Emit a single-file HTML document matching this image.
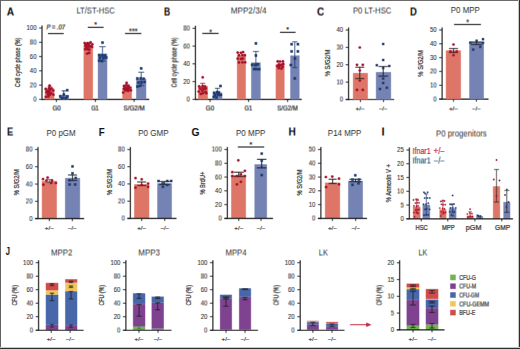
<!DOCTYPE html>
<html><head><meta charset="utf-8"><style>
html,body{margin:0;padding:0;background:#fff;}
#wrap{position:relative;width:520px;height:349px;overflow:hidden;background:#fff;}
svg{position:absolute;left:0;top:0;font-family:"Liberation Sans", sans-serif;}
</style></head><body><div id="wrap">
<svg width="520" height="349" viewBox="0 0 520 349">
<defs><g id="c"><rect x="-2" y="-2" width="524" height="353" fill="#fff"/>
<line x1="42.00" y1="99.90" x2="42.00" y2="25.50" stroke="#1e1e1e" stroke-width="1.15"/>
<line x1="39.10" y1="99.40" x2="42.00" y2="99.40" stroke="#1e1e1e" stroke-width="0.9"/>
<text x="36.50" y="101.64" font-size="6.3" text-anchor="end" fill="#3a3a3a" stroke="#3a3a3a" stroke-width="0.1" textLength="3.34" lengthAdjust="spacingAndGlyphs">0</text>
<line x1="39.10" y1="85.12" x2="42.00" y2="85.12" stroke="#1e1e1e" stroke-width="0.9"/>
<text x="36.50" y="87.36" font-size="6.3" text-anchor="end" fill="#3a3a3a" stroke="#3a3a3a" stroke-width="0.1" textLength="6.68" lengthAdjust="spacingAndGlyphs">20</text>
<line x1="39.10" y1="70.84" x2="42.00" y2="70.84" stroke="#1e1e1e" stroke-width="0.9"/>
<text x="36.50" y="73.08" font-size="6.3" text-anchor="end" fill="#3a3a3a" stroke="#3a3a3a" stroke-width="0.1" textLength="6.68" lengthAdjust="spacingAndGlyphs">40</text>
<line x1="39.10" y1="56.56" x2="42.00" y2="56.56" stroke="#1e1e1e" stroke-width="0.9"/>
<text x="36.50" y="58.80" font-size="6.3" text-anchor="end" fill="#3a3a3a" stroke="#3a3a3a" stroke-width="0.1" textLength="6.68" lengthAdjust="spacingAndGlyphs">60</text>
<line x1="39.10" y1="42.28" x2="42.00" y2="42.28" stroke="#1e1e1e" stroke-width="0.9"/>
<text x="36.50" y="44.52" font-size="6.3" text-anchor="end" fill="#3a3a3a" stroke="#3a3a3a" stroke-width="0.1" textLength="6.68" lengthAdjust="spacingAndGlyphs">80</text>
<line x1="39.10" y1="28.00" x2="42.00" y2="28.00" stroke="#1e1e1e" stroke-width="0.9"/>
<text x="36.50" y="30.24" font-size="6.3" text-anchor="end" fill="#3a3a3a" stroke="#3a3a3a" stroke-width="0.1" textLength="10.02" lengthAdjust="spacingAndGlyphs">100</text>
<text x="20.10" y="62.40" font-size="7.0" text-anchor="middle" fill="#333" stroke="#333" stroke-width="0.22" textLength="49.60" lengthAdjust="spacingAndGlyphs" transform="rotate(-90 20.10 62.40)">Cell cycle phase (%)</text>
<line x1="42.00" y1="99.40" x2="149.20" y2="99.40" stroke="#1e1e1e" stroke-width="1.15"/>
<line x1="56.40" y1="99.40" x2="56.40" y2="102.00" stroke="#1e1e1e" stroke-width="0.9"/>
<line x1="95.40" y1="99.40" x2="95.40" y2="102.00" stroke="#1e1e1e" stroke-width="0.9"/>
<line x1="134.10" y1="99.40" x2="134.10" y2="102.00" stroke="#1e1e1e" stroke-width="0.9"/>
<rect x="44.90" y="88.40" width="9.40" height="11.00" fill="#DE7668"/>
<rect x="59.40" y="95.00" width="9.40" height="4.40" fill="#7482B4"/>
<rect x="83.60" y="45.50" width="9.30" height="53.90" fill="#DE7668"/>
<rect x="97.90" y="53.60" width="9.30" height="45.80" fill="#7482B4"/>
<rect x="122.40" y="87.60" width="9.40" height="11.80" fill="#DE7668"/>
<rect x="136.20" y="78.70" width="10.00" height="20.70" fill="#7482B4"/>
<circle cx="49.60" cy="85.60" r="1.4" fill="#A8112B"/>
<circle cx="45.73" cy="88.97" r="1.4" fill="#A8112B"/>
<circle cx="49.15" cy="88.26" r="1.4" fill="#A8112B"/>
<circle cx="51.49" cy="88.49" r="1.4" fill="#A8112B"/>
<circle cx="47.68" cy="91.00" r="1.4" fill="#A8112B"/>
<circle cx="49.68" cy="90.08" r="1.4" fill="#A8112B"/>
<circle cx="53.24" cy="90.57" r="1.4" fill="#A8112B"/>
<circle cx="46.48" cy="92.15" r="1.4" fill="#A8112B"/>
<circle cx="48.77" cy="93.02" r="1.4" fill="#A8112B"/>
<circle cx="51.17" cy="93.28" r="1.4" fill="#A8112B"/>
<circle cx="47.98" cy="94.29" r="1.4" fill="#A8112B"/>
<circle cx="49.60" cy="94.90" r="1.4" fill="#A8112B"/>
<circle cx="53.36" cy="94.71" r="1.4" fill="#A8112B"/>
<circle cx="45.83" cy="96.86" r="1.4" fill="#A8112B"/>
<circle cx="48.27" cy="96.62" r="1.4" fill="#A8112B"/>
<line x1="49.60" y1="86.50" x2="49.60" y2="92.00" stroke="#A8112B" stroke-width="0.8"/>
<line x1="47.60" y1="86.50" x2="51.60" y2="86.50" stroke="#A8112B" stroke-width="0.8"/>
<line x1="47.60" y1="92.00" x2="51.60" y2="92.00" stroke="#A8112B" stroke-width="0.8"/>
<rect x="65.90" y="88.90" width="2.6" height="2.6" fill="#1D3B6E"/>
<rect x="59.00" y="95.00" width="2.6" height="2.6" fill="#1D3B6E"/>
<rect x="62.50" y="93.20" width="2.6" height="2.6" fill="#1D3B6E"/>
<rect x="66.00" y="95.20" width="2.6" height="2.6" fill="#1D3B6E"/>
<rect x="60.70" y="96.90" width="2.6" height="2.6" fill="#1D3B6E"/>
<rect x="64.70" y="96.90" width="2.6" height="2.6" fill="#1D3B6E"/>
<line x1="63.80" y1="90.90" x2="63.80" y2="98.00" stroke="#1D3B6E" stroke-width="0.9"/>
<line x1="61.70" y1="90.90" x2="65.90" y2="90.90" stroke="#1D3B6E" stroke-width="0.9"/>
<line x1="61.70" y1="98.00" x2="65.90" y2="98.00" stroke="#1D3B6E" stroke-width="0.9"/>
<circle cx="84.66" cy="43.09" r="1.4" fill="#A8112B"/>
<circle cx="87.52" cy="43.16" r="1.4" fill="#A8112B"/>
<circle cx="90.53" cy="42.52" r="1.4" fill="#A8112B"/>
<circle cx="85.74" cy="44.72" r="1.4" fill="#A8112B"/>
<circle cx="88.74" cy="43.99" r="1.4" fill="#A8112B"/>
<circle cx="92.32" cy="44.28" r="1.4" fill="#A8112B"/>
<circle cx="85.38" cy="45.56" r="1.4" fill="#A8112B"/>
<circle cx="87.84" cy="45.17" r="1.4" fill="#A8112B"/>
<circle cx="90.54" cy="46.03" r="1.4" fill="#A8112B"/>
<circle cx="86.35" cy="47.15" r="1.4" fill="#A8112B"/>
<circle cx="89.23" cy="46.34" r="1.4" fill="#A8112B"/>
<circle cx="92.03" cy="46.97" r="1.4" fill="#A8112B"/>
<circle cx="85.22" cy="49.27" r="1.4" fill="#A8112B"/>
<circle cx="87.58" cy="49.34" r="1.4" fill="#A8112B"/>
<circle cx="89.35" cy="49.63" r="1.4" fill="#A8112B"/>
<circle cx="87.13" cy="53.61" r="1.4" fill="#A8112B"/>
<circle cx="89.11" cy="52.92" r="1.4" fill="#A8112B"/>
<line x1="88.20" y1="43.00" x2="88.20" y2="48.00" stroke="#A8112B" stroke-width="0.8"/>
<line x1="86.20" y1="43.00" x2="90.20" y2="43.00" stroke="#A8112B" stroke-width="0.8"/>
<line x1="86.20" y1="48.00" x2="90.20" y2="48.00" stroke="#A8112B" stroke-width="0.8"/>
<rect x="101.20" y="41.30" width="2.6" height="2.6" fill="#1D3B6E"/>
<line x1="102.50" y1="46.70" x2="102.50" y2="61.00" stroke="#1D3B6E" stroke-width="0.8"/>
<line x1="99.25" y1="46.70" x2="105.75" y2="46.70" stroke="#1D3B6E" stroke-width="0.8"/>
<line x1="99.25" y1="61.00" x2="105.75" y2="61.00" stroke="#1D3B6E" stroke-width="0.8"/>
<rect x="98.01" y="53.99" width="2.6" height="2.6" fill="#1D3B6E"/>
<rect x="100.89" y="54.23" width="2.6" height="2.6" fill="#1D3B6E"/>
<rect x="103.49" y="54.21" width="2.6" height="2.6" fill="#1D3B6E"/>
<rect x="98.63" y="56.66" width="2.6" height="2.6" fill="#1D3B6E"/>
<rect x="102.40" y="56.88" width="2.6" height="2.6" fill="#1D3B6E"/>
<rect x="105.01" y="56.24" width="2.6" height="2.6" fill="#1D3B6E"/>
<rect x="97.83" y="59.40" width="2.6" height="2.6" fill="#1D3B6E"/>
<rect x="100.59" y="59.79" width="2.6" height="2.6" fill="#1D3B6E"/>
<circle cx="126.60" cy="82.90" r="1.4" fill="#A8112B"/>
<circle cx="124.04" cy="86.01" r="1.4" fill="#A8112B"/>
<circle cx="126.40" cy="85.33" r="1.4" fill="#A8112B"/>
<circle cx="128.55" cy="85.82" r="1.4" fill="#A8112B"/>
<circle cx="125.01" cy="87.57" r="1.4" fill="#A8112B"/>
<circle cx="127.63" cy="87.58" r="1.4" fill="#A8112B"/>
<circle cx="130.24" cy="87.62" r="1.4" fill="#A8112B"/>
<circle cx="123.96" cy="88.80" r="1.4" fill="#A8112B"/>
<circle cx="126.46" cy="89.12" r="1.4" fill="#A8112B"/>
<circle cx="128.78" cy="88.96" r="1.4" fill="#A8112B"/>
<circle cx="125.42" cy="90.26" r="1.4" fill="#A8112B"/>
<circle cx="128.15" cy="90.76" r="1.4" fill="#A8112B"/>
<circle cx="130.93" cy="90.34" r="1.4" fill="#A8112B"/>
<circle cx="123.20" cy="92.54" r="1.4" fill="#A8112B"/>
<line x1="127.00" y1="85.00" x2="127.00" y2="91.00" stroke="#A8112B" stroke-width="0.8"/>
<line x1="124.75" y1="85.00" x2="129.25" y2="85.00" stroke="#A8112B" stroke-width="0.8"/>
<line x1="124.75" y1="91.00" x2="129.25" y2="91.00" stroke="#A8112B" stroke-width="0.8"/>
<rect x="139.90" y="67.10" width="2.6" height="2.6" fill="#1D3B6E"/>
<line x1="141.20" y1="72.20" x2="141.20" y2="85.50" stroke="#1D3B6E" stroke-width="0.8"/>
<line x1="138.20" y1="72.20" x2="144.20" y2="72.20" stroke="#1D3B6E" stroke-width="0.8"/>
<line x1="138.20" y1="85.50" x2="144.20" y2="85.50" stroke="#1D3B6E" stroke-width="0.8"/>
<rect x="136.04" y="77.11" width="2.6" height="2.6" fill="#1D3B6E"/>
<rect x="139.43" y="77.02" width="2.6" height="2.6" fill="#1D3B6E"/>
<rect x="142.29" y="77.37" width="2.6" height="2.6" fill="#1D3B6E"/>
<rect x="137.22" y="81.21" width="2.6" height="2.6" fill="#1D3B6E"/>
<rect x="140.19" y="81.12" width="2.6" height="2.6" fill="#1D3B6E"/>
<rect x="143.23" y="80.71" width="2.6" height="2.6" fill="#1D3B6E"/>
<rect x="136.16" y="85.26" width="2.6" height="2.6" fill="#1D3B6E"/>
<rect x="138.80" y="84.53" width="2.6" height="2.6" fill="#1D3B6E"/>
<text x="56.60" y="110.60" font-size="6.4" text-anchor="middle" fill="#333" stroke="#333" stroke-width="0.22" textLength="8.30" lengthAdjust="spacingAndGlyphs">G0</text>
<text x="95.00" y="110.60" font-size="6.4" text-anchor="middle" fill="#333" stroke="#333" stroke-width="0.22" textLength="7.60" lengthAdjust="spacingAndGlyphs">G1</text>
<text x="134.20" y="110.60" font-size="6.4" text-anchor="middle" fill="#333" stroke="#333" stroke-width="0.22" textLength="21.20" lengthAdjust="spacingAndGlyphs">S/G2/M</text>
<text x="46.40" y="29.60" font-size="6.4" text-anchor="start" fill="#333" stroke="#333" stroke-width="0.22" font-style="italic" textLength="18.60" lengthAdjust="spacingAndGlyphs">P = .07</text>
<line x1="48.00" y1="33.60" x2="63.70" y2="33.60" stroke="#1e1e1e" stroke-width="1.1"/>
<text x="95.50" y="27.10" font-size="7.0" text-anchor="middle" fill="#333" stroke="#333" stroke-width="0.22">*</text>
<line x1="87.80" y1="27.30" x2="103.60" y2="27.30" stroke="#1e1e1e" stroke-width="1.1"/>
<text x="133.30" y="33.50" font-size="7.0" text-anchor="middle" fill="#333" stroke="#333" stroke-width="0.22" textLength="8.40" lengthAdjust="spacingAndGlyphs">***</text>
<line x1="125.00" y1="33.50" x2="141.40" y2="33.50" stroke="#1e1e1e" stroke-width="1.1"/>
<line x1="195.40" y1="99.90" x2="195.40" y2="25.80" stroke="#1e1e1e" stroke-width="1.15"/>
<line x1="192.50" y1="99.40" x2="195.40" y2="99.40" stroke="#1e1e1e" stroke-width="0.9"/>
<text x="189.90" y="101.64" font-size="6.3" text-anchor="end" fill="#3a3a3a" stroke="#3a3a3a" stroke-width="0.1" textLength="3.34" lengthAdjust="spacingAndGlyphs">0</text>
<line x1="192.50" y1="81.62" x2="195.40" y2="81.62" stroke="#1e1e1e" stroke-width="0.9"/>
<text x="189.90" y="83.86" font-size="6.3" text-anchor="end" fill="#3a3a3a" stroke="#3a3a3a" stroke-width="0.1" textLength="6.68" lengthAdjust="spacingAndGlyphs">20</text>
<line x1="192.50" y1="63.85" x2="195.40" y2="63.85" stroke="#1e1e1e" stroke-width="0.9"/>
<text x="189.90" y="66.09" font-size="6.3" text-anchor="end" fill="#3a3a3a" stroke="#3a3a3a" stroke-width="0.1" textLength="6.68" lengthAdjust="spacingAndGlyphs">40</text>
<line x1="192.50" y1="46.07" x2="195.40" y2="46.07" stroke="#1e1e1e" stroke-width="0.9"/>
<text x="189.90" y="48.31" font-size="6.3" text-anchor="end" fill="#3a3a3a" stroke="#3a3a3a" stroke-width="0.1" textLength="6.68" lengthAdjust="spacingAndGlyphs">60</text>
<line x1="192.50" y1="28.30" x2="195.40" y2="28.30" stroke="#1e1e1e" stroke-width="0.9"/>
<text x="189.90" y="30.54" font-size="6.3" text-anchor="end" fill="#3a3a3a" stroke="#3a3a3a" stroke-width="0.1" textLength="6.68" lengthAdjust="spacingAndGlyphs">80</text>
<text x="176.30" y="62.40" font-size="7.0" text-anchor="middle" fill="#333" stroke="#333" stroke-width="0.22" textLength="50.20" lengthAdjust="spacingAndGlyphs" transform="rotate(-90 176.30 62.40)">Cell cycle phase (%)</text>
<line x1="195.40" y1="99.40" x2="301.70" y2="99.40" stroke="#1e1e1e" stroke-width="1.15"/>
<line x1="210.10" y1="99.40" x2="210.10" y2="102.00" stroke="#1e1e1e" stroke-width="0.9"/>
<line x1="248.60" y1="99.40" x2="248.60" y2="102.00" stroke="#1e1e1e" stroke-width="0.9"/>
<line x1="287.60" y1="99.40" x2="287.60" y2="102.00" stroke="#1e1e1e" stroke-width="0.9"/>
<rect x="198.10" y="86.00" width="9.70" height="13.40" fill="#DE7668"/>
<rect x="212.80" y="92.50" width="9.40" height="6.90" fill="#7482B4"/>
<rect x="237.00" y="55.50" width="8.80" height="43.90" fill="#DE7668"/>
<rect x="251.20" y="62.50" width="9.40" height="36.90" fill="#7482B4"/>
<rect x="275.70" y="64.20" width="8.80" height="35.20" fill="#DE7668"/>
<rect x="290.30" y="55.50" width="9.20" height="43.90" fill="#7482B4"/>
<circle cx="202.70" cy="77.30" r="1.4" fill="#A8112B"/>
<line x1="202.70" y1="83.30" x2="202.70" y2="88.00" stroke="#A8112B" stroke-width="0.8"/>
<line x1="200.20" y1="83.30" x2="205.20" y2="83.30" stroke="#A8112B" stroke-width="0.8"/>
<line x1="200.20" y1="88.00" x2="205.20" y2="88.00" stroke="#A8112B" stroke-width="0.8"/>
<circle cx="199.15" cy="86.32" r="1.4" fill="#A8112B"/>
<circle cx="202.55" cy="86.21" r="1.4" fill="#A8112B"/>
<circle cx="204.88" cy="86.35" r="1.4" fill="#A8112B"/>
<circle cx="200.25" cy="88.76" r="1.4" fill="#A8112B"/>
<circle cx="203.61" cy="89.10" r="1.4" fill="#A8112B"/>
<circle cx="205.80" cy="88.51" r="1.4" fill="#A8112B"/>
<circle cx="198.72" cy="91.62" r="1.4" fill="#A8112B"/>
<circle cx="202.27" cy="90.70" r="1.4" fill="#A8112B"/>
<circle cx="205.45" cy="91.81" r="1.4" fill="#A8112B"/>
<circle cx="200.81" cy="93.89" r="1.4" fill="#A8112B"/>
<circle cx="203.05" cy="93.17" r="1.4" fill="#A8112B"/>
<circle cx="206.33" cy="93.22" r="1.4" fill="#A8112B"/>
<rect x="219.20" y="84.70" width="2.6" height="2.6" fill="#1D3B6E"/>
<line x1="217.40" y1="88.30" x2="217.40" y2="94.00" stroke="#1D3B6E" stroke-width="0.8"/>
<line x1="214.90" y1="88.30" x2="219.90" y2="88.30" stroke="#1D3B6E" stroke-width="0.8"/>
<line x1="214.90" y1="94.00" x2="219.90" y2="94.00" stroke="#1D3B6E" stroke-width="0.8"/>
<rect x="212.84" y="91.47" width="2.6" height="2.6" fill="#1D3B6E"/>
<rect x="215.73" y="90.85" width="2.6" height="2.6" fill="#1D3B6E"/>
<rect x="217.61" y="91.13" width="2.6" height="2.6" fill="#1D3B6E"/>
<rect x="213.93" y="93.82" width="2.6" height="2.6" fill="#1D3B6E"/>
<rect x="217.10" y="93.57" width="2.6" height="2.6" fill="#1D3B6E"/>
<rect x="219.60" y="93.64" width="2.6" height="2.6" fill="#1D3B6E"/>
<rect x="212.44" y="95.54" width="2.6" height="2.6" fill="#1D3B6E"/>
<rect x="215.13" y="96.10" width="2.6" height="2.6" fill="#1D3B6E"/>
<circle cx="237.69" cy="52.62" r="1.4" fill="#A8112B"/>
<circle cx="240.94" cy="52.82" r="1.4" fill="#A8112B"/>
<circle cx="243.07" cy="52.08" r="1.4" fill="#A8112B"/>
<circle cx="238.93" cy="55.27" r="1.4" fill="#A8112B"/>
<circle cx="242.36" cy="55.16" r="1.4" fill="#A8112B"/>
<circle cx="244.85" cy="55.26" r="1.4" fill="#A8112B"/>
<circle cx="237.74" cy="58.72" r="1.4" fill="#A8112B"/>
<circle cx="241.12" cy="58.93" r="1.4" fill="#A8112B"/>
<circle cx="242.87" cy="58.53" r="1.4" fill="#A8112B"/>
<circle cx="238.93" cy="62.45" r="1.4" fill="#A8112B"/>
<circle cx="242.46" cy="62.37" r="1.4" fill="#A8112B"/>
<circle cx="245.21" cy="62.29" r="1.4" fill="#A8112B"/>
<rect x="254.60" y="42.10" width="2.6" height="2.6" fill="#1D3B6E"/>
<rect x="254.60" y="54.20" width="2.6" height="2.6" fill="#1D3B6E"/>
<line x1="255.90" y1="51.50" x2="255.90" y2="64.00" stroke="#1D3B6E" stroke-width="0.8"/>
<line x1="252.90" y1="51.50" x2="258.90" y2="51.50" stroke="#1D3B6E" stroke-width="0.8"/>
<line x1="252.90" y1="64.00" x2="258.90" y2="64.00" stroke="#1D3B6E" stroke-width="0.8"/>
<rect x="250.89" y="63.57" width="2.6" height="2.6" fill="#1D3B6E"/>
<rect x="254.22" y="63.85" width="2.6" height="2.6" fill="#1D3B6E"/>
<rect x="256.43" y="63.03" width="2.6" height="2.6" fill="#1D3B6E"/>
<rect x="252.98" y="67.77" width="2.6" height="2.6" fill="#1D3B6E"/>
<rect x="255.13" y="67.80" width="2.6" height="2.6" fill="#1D3B6E"/>
<rect x="257.91" y="67.91" width="2.6" height="2.6" fill="#1D3B6E"/>
<circle cx="277.70" cy="61.40" r="1.4" fill="#A8112B"/>
<circle cx="279.99" cy="61.58" r="1.4" fill="#A8112B"/>
<circle cx="282.86" cy="61.41" r="1.4" fill="#A8112B"/>
<circle cx="278.88" cy="64.38" r="1.4" fill="#A8112B"/>
<circle cx="281.42" cy="64.76" r="1.4" fill="#A8112B"/>
<circle cx="283.25" cy="63.97" r="1.4" fill="#A8112B"/>
<circle cx="277.39" cy="66.07" r="1.4" fill="#A8112B"/>
<circle cx="279.42" cy="66.01" r="1.4" fill="#A8112B"/>
<circle cx="282.70" cy="66.79" r="1.4" fill="#A8112B"/>
<circle cx="278.78" cy="68.18" r="1.4" fill="#A8112B"/>
<circle cx="281.50" cy="68.53" r="1.4" fill="#A8112B"/>
<rect x="290.30" y="42.90" width="2.6" height="2.6" fill="#1D3B6E"/>
<rect x="296.60" y="42.90" width="2.6" height="2.6" fill="#1D3B6E"/>
<rect x="290.30" y="50.10" width="2.6" height="2.6" fill="#1D3B6E"/>
<rect x="296.60" y="50.10" width="2.6" height="2.6" fill="#1D3B6E"/>
<rect x="293.70" y="57.20" width="2.6" height="2.6" fill="#1D3B6E"/>
<rect x="289.50" y="63.70" width="2.6" height="2.6" fill="#1D3B6E"/>
<rect x="293.50" y="77.10" width="2.6" height="2.6" fill="#1D3B6E"/>
<line x1="294.80" y1="41.80" x2="294.80" y2="67.60" stroke="#1D3B6E" stroke-width="0.8"/>
<line x1="292.30" y1="41.80" x2="297.30" y2="41.80" stroke="#1D3B6E" stroke-width="0.8"/>
<line x1="292.30" y1="67.60" x2="297.30" y2="67.60" stroke="#1D3B6E" stroke-width="0.8"/>
<text x="210.00" y="110.60" font-size="6.4" text-anchor="middle" fill="#333" stroke="#333" stroke-width="0.22" textLength="8.30" lengthAdjust="spacingAndGlyphs">G0</text>
<text x="248.40" y="110.60" font-size="6.4" text-anchor="middle" fill="#333" stroke="#333" stroke-width="0.22" textLength="7.60" lengthAdjust="spacingAndGlyphs">G1</text>
<text x="287.50" y="110.60" font-size="6.4" text-anchor="middle" fill="#333" stroke="#333" stroke-width="0.22" textLength="20.50" lengthAdjust="spacingAndGlyphs">S/G2/M</text>
<text x="210.60" y="34.40" font-size="7.0" text-anchor="middle" fill="#333" stroke="#333" stroke-width="0.22">*</text>
<line x1="202.30" y1="33.40" x2="218.60" y2="33.40" stroke="#1e1e1e" stroke-width="1.1"/>
<text x="287.60" y="32.20" font-size="7.0" text-anchor="middle" fill="#333" stroke="#333" stroke-width="0.22">*</text>
<line x1="280.00" y1="32.30" x2="295.60" y2="32.30" stroke="#1e1e1e" stroke-width="1.1"/>
<line x1="348.60" y1="100.00" x2="348.60" y2="27.50" stroke="#1e1e1e" stroke-width="1.15"/>
<line x1="345.70" y1="99.50" x2="348.60" y2="99.50" stroke="#1e1e1e" stroke-width="0.9"/>
<text x="343.10" y="101.74" font-size="6.3" text-anchor="end" fill="#3a3a3a" stroke="#3a3a3a" stroke-width="0.1" textLength="3.34" lengthAdjust="spacingAndGlyphs">0</text>
<line x1="345.70" y1="82.12" x2="348.60" y2="82.12" stroke="#1e1e1e" stroke-width="0.9"/>
<text x="343.10" y="84.36" font-size="6.3" text-anchor="end" fill="#3a3a3a" stroke="#3a3a3a" stroke-width="0.1" textLength="6.68" lengthAdjust="spacingAndGlyphs">10</text>
<line x1="345.70" y1="64.75" x2="348.60" y2="64.75" stroke="#1e1e1e" stroke-width="0.9"/>
<text x="343.10" y="66.99" font-size="6.3" text-anchor="end" fill="#3a3a3a" stroke="#3a3a3a" stroke-width="0.1" textLength="6.68" lengthAdjust="spacingAndGlyphs">20</text>
<line x1="345.70" y1="47.38" x2="348.60" y2="47.38" stroke="#1e1e1e" stroke-width="0.9"/>
<text x="343.10" y="49.61" font-size="6.3" text-anchor="end" fill="#3a3a3a" stroke="#3a3a3a" stroke-width="0.1" textLength="6.68" lengthAdjust="spacingAndGlyphs">30</text>
<line x1="345.70" y1="30.00" x2="348.60" y2="30.00" stroke="#1e1e1e" stroke-width="0.9"/>
<text x="343.10" y="32.24" font-size="6.3" text-anchor="end" fill="#3a3a3a" stroke="#3a3a3a" stroke-width="0.1" textLength="6.68" lengthAdjust="spacingAndGlyphs">40</text>
<text x="329.80" y="63.00" font-size="6.6" text-anchor="middle" fill="#333" stroke="#333" stroke-width="0.22" textLength="26.50" lengthAdjust="spacingAndGlyphs" transform="rotate(-90 329.80 63.00)">% S/G2/M</text>
<line x1="345.70" y1="99.50" x2="394.20" y2="99.50" stroke="#1e1e1e" stroke-width="1.15"/>
<line x1="360.40" y1="99.50" x2="360.40" y2="102.10" stroke="#1e1e1e" stroke-width="0.9"/>
<line x1="383.50" y1="99.50" x2="383.50" y2="102.10" stroke="#1e1e1e" stroke-width="0.9"/>
<rect x="353.00" y="73.00" width="14.80" height="26.50" fill="#DE7668"/>
<rect x="376.00" y="72.10" width="15.00" height="27.40" fill="#7482B4"/>
<line x1="359.80" y1="67.20" x2="359.80" y2="78.60" stroke="#1e1e1e" stroke-width="0.9"/>
<line x1="355.30" y1="67.20" x2="364.30" y2="67.20" stroke="#1e1e1e" stroke-width="0.9"/>
<line x1="355.30" y1="78.60" x2="364.30" y2="78.60" stroke="#1e1e1e" stroke-width="0.9"/>
<circle cx="359.80" cy="47.50" r="1.35" fill="#A8112B"/>
<circle cx="357.00" cy="64.80" r="1.35" fill="#A8112B"/>
<circle cx="362.80" cy="64.80" r="1.35" fill="#A8112B"/>
<circle cx="359.80" cy="70.50" r="1.35" fill="#A8112B"/>
<circle cx="359.80" cy="80.60" r="1.35" fill="#A8112B"/>
<circle cx="357.00" cy="89.90" r="1.35" fill="#A8112B"/>
<circle cx="362.80" cy="89.90" r="1.35" fill="#A8112B"/>
<line x1="383.20" y1="66.50" x2="383.20" y2="76.10" stroke="#1e1e1e" stroke-width="0.9"/>
<line x1="378.45" y1="66.50" x2="387.95" y2="66.50" stroke="#1e1e1e" stroke-width="0.9"/>
<line x1="378.45" y1="76.10" x2="387.95" y2="76.10" stroke="#1e1e1e" stroke-width="0.9"/>
<rect x="382.00" y="42.80" width="2.4" height="2.4" fill="#1D3B6E"/>
<rect x="382.00" y="58.80" width="2.4" height="2.4" fill="#1D3B6E"/>
<rect x="375.60" y="64.00" width="2.4" height="2.4" fill="#1D3B6E"/>
<rect x="388.10" y="64.80" width="2.4" height="2.4" fill="#1D3B6E"/>
<rect x="382.00" y="66.90" width="2.4" height="2.4" fill="#1D3B6E"/>
<rect x="382.00" y="77.30" width="2.4" height="2.4" fill="#1D3B6E"/>
<rect x="382.00" y="81.80" width="2.4" height="2.4" fill="#1D3B6E"/>
<rect x="378.80" y="87.80" width="2.4" height="2.4" fill="#1D3B6E"/>
<rect x="385.60" y="86.50" width="2.4" height="2.4" fill="#1D3B6E"/>
<text x="360.20" y="110.60" font-size="6.0" text-anchor="middle" fill="#333" stroke="#333" stroke-width="0.22" textLength="9.20" lengthAdjust="spacingAndGlyphs">+/−</text>
<text x="383.20" y="110.60" font-size="6.0" text-anchor="middle" fill="#333" stroke="#333" stroke-width="0.22" textLength="8.60" lengthAdjust="spacingAndGlyphs">−/−</text>
<line x1="442.10" y1="99.60" x2="442.10" y2="27.50" stroke="#1e1e1e" stroke-width="1.15"/>
<line x1="439.20" y1="99.10" x2="442.10" y2="99.10" stroke="#1e1e1e" stroke-width="0.9"/>
<text x="436.60" y="101.34" font-size="6.3" text-anchor="end" fill="#3a3a3a" stroke="#3a3a3a" stroke-width="0.1" textLength="3.34" lengthAdjust="spacingAndGlyphs">0</text>
<line x1="439.20" y1="85.28" x2="442.10" y2="85.28" stroke="#1e1e1e" stroke-width="0.9"/>
<text x="436.60" y="87.52" font-size="6.3" text-anchor="end" fill="#3a3a3a" stroke="#3a3a3a" stroke-width="0.1" textLength="6.68" lengthAdjust="spacingAndGlyphs">10</text>
<line x1="439.20" y1="71.46" x2="442.10" y2="71.46" stroke="#1e1e1e" stroke-width="0.9"/>
<text x="436.60" y="73.70" font-size="6.3" text-anchor="end" fill="#3a3a3a" stroke="#3a3a3a" stroke-width="0.1" textLength="6.68" lengthAdjust="spacingAndGlyphs">20</text>
<line x1="439.20" y1="57.64" x2="442.10" y2="57.64" stroke="#1e1e1e" stroke-width="0.9"/>
<text x="436.60" y="59.88" font-size="6.3" text-anchor="end" fill="#3a3a3a" stroke="#3a3a3a" stroke-width="0.1" textLength="6.68" lengthAdjust="spacingAndGlyphs">30</text>
<line x1="439.20" y1="43.82" x2="442.10" y2="43.82" stroke="#1e1e1e" stroke-width="0.9"/>
<text x="436.60" y="46.06" font-size="6.3" text-anchor="end" fill="#3a3a3a" stroke="#3a3a3a" stroke-width="0.1" textLength="6.68" lengthAdjust="spacingAndGlyphs">40</text>
<line x1="439.20" y1="30.00" x2="442.10" y2="30.00" stroke="#1e1e1e" stroke-width="0.9"/>
<text x="436.60" y="32.24" font-size="6.3" text-anchor="end" fill="#3a3a3a" stroke="#3a3a3a" stroke-width="0.1" textLength="6.68" lengthAdjust="spacingAndGlyphs">50</text>
<text x="423.00" y="63.40" font-size="6.6" text-anchor="middle" fill="#333" stroke="#333" stroke-width="0.22" textLength="26.50" lengthAdjust="spacingAndGlyphs" transform="rotate(-90 423.00 63.40)">% S/G2/M</text>
<line x1="439.20" y1="99.10" x2="488.50" y2="99.10" stroke="#1e1e1e" stroke-width="1.15"/>
<line x1="453.50" y1="99.10" x2="453.50" y2="101.70" stroke="#1e1e1e" stroke-width="0.9"/>
<line x1="476.40" y1="99.10" x2="476.40" y2="101.70" stroke="#1e1e1e" stroke-width="0.9"/>
<rect x="445.90" y="50.40" width="15.00" height="48.70" fill="#DE7668"/>
<rect x="469.30" y="41.90" width="14.50" height="57.20" fill="#7482B4"/>
<line x1="453.50" y1="48.50" x2="453.50" y2="52.50" stroke="#1e1e1e" stroke-width="0.9"/>
<line x1="449.00" y1="48.50" x2="458.00" y2="48.50" stroke="#1e1e1e" stroke-width="0.9"/>
<line x1="449.00" y1="52.50" x2="458.00" y2="52.50" stroke="#1e1e1e" stroke-width="0.9"/>
<circle cx="453.50" cy="44.50" r="1.3" fill="#A8112B"/>
<circle cx="450.40" cy="51.40" r="1.3" fill="#A8112B"/>
<circle cx="456.70" cy="51.40" r="1.3" fill="#A8112B"/>
<circle cx="453.50" cy="55.30" r="1.3" fill="#A8112B"/>
<line x1="476.50" y1="42.00" x2="476.50" y2="44.50" stroke="#1e1e1e" stroke-width="0.9"/>
<line x1="471.00" y1="42.00" x2="482.00" y2="42.00" stroke="#1e1e1e" stroke-width="0.9"/>
<line x1="471.00" y1="44.50" x2="482.00" y2="44.50" stroke="#1e1e1e" stroke-width="0.9"/>
<rect x="469.10" y="41.40" width="2.4" height="2.4" fill="#1D3B6E"/>
<rect x="475.40" y="39.50" width="2.4" height="2.4" fill="#1D3B6E"/>
<rect x="481.80" y="38.00" width="2.4" height="2.4" fill="#1D3B6E"/>
<rect x="481.80" y="41.60" width="2.4" height="2.4" fill="#1D3B6E"/>
<rect x="479.10" y="45.60" width="2.4" height="2.4" fill="#1D3B6E"/>
<rect x="472.00" y="48.40" width="2.4" height="2.4" fill="#1D3B6E"/>
<text x="467.60" y="24.30" font-size="7.0" text-anchor="middle" fill="#333" stroke="#333" stroke-width="0.22">*</text>
<line x1="454.10" y1="24.50" x2="480.90" y2="24.50" stroke="#1e1e1e" stroke-width="1.1"/>
<text x="453.50" y="110.60" font-size="6.0" text-anchor="middle" fill="#333" stroke="#333" stroke-width="0.22" textLength="9.20" lengthAdjust="spacingAndGlyphs">+/−</text>
<text x="476.40" y="110.60" font-size="6.0" text-anchor="middle" fill="#333" stroke="#333" stroke-width="0.22" textLength="8.60" lengthAdjust="spacingAndGlyphs">−/−</text>
<rect x="41.90" y="181.00" width="14.90" height="37.60" fill="#DE7668"/>
<rect x="65.10" y="178.00" width="14.90" height="40.60" fill="#7482B4"/>
<line x1="38.00" y1="219.10" x2="38.00" y2="147.00" stroke="#1e1e1e" stroke-width="1.15"/>
<line x1="35.10" y1="218.60" x2="38.00" y2="218.60" stroke="#1e1e1e" stroke-width="0.9"/>
<text x="32.50" y="220.84" font-size="6.3" text-anchor="end" fill="#3a3a3a" stroke="#3a3a3a" stroke-width="0.1" textLength="3.34" lengthAdjust="spacingAndGlyphs">0</text>
<line x1="35.10" y1="201.32" x2="38.00" y2="201.32" stroke="#1e1e1e" stroke-width="0.9"/>
<text x="32.50" y="203.56" font-size="6.3" text-anchor="end" fill="#3a3a3a" stroke="#3a3a3a" stroke-width="0.1" textLength="6.68" lengthAdjust="spacingAndGlyphs">20</text>
<line x1="35.10" y1="184.05" x2="38.00" y2="184.05" stroke="#1e1e1e" stroke-width="0.9"/>
<text x="32.50" y="186.29" font-size="6.3" text-anchor="end" fill="#3a3a3a" stroke="#3a3a3a" stroke-width="0.1" textLength="6.68" lengthAdjust="spacingAndGlyphs">40</text>
<line x1="35.10" y1="166.77" x2="38.00" y2="166.77" stroke="#1e1e1e" stroke-width="0.9"/>
<text x="32.50" y="169.01" font-size="6.3" text-anchor="end" fill="#3a3a3a" stroke="#3a3a3a" stroke-width="0.1" textLength="6.68" lengthAdjust="spacingAndGlyphs">60</text>
<line x1="35.10" y1="149.50" x2="38.00" y2="149.50" stroke="#1e1e1e" stroke-width="0.9"/>
<text x="32.50" y="151.74" font-size="6.3" text-anchor="end" fill="#3a3a3a" stroke="#3a3a3a" stroke-width="0.1" textLength="6.68" lengthAdjust="spacingAndGlyphs">80</text>
<text x="19.00" y="182.20" font-size="6.6" text-anchor="middle" fill="#333" stroke="#333" stroke-width="0.22" textLength="26.00" lengthAdjust="spacingAndGlyphs" transform="rotate(-90 19.00 182.20)">% S/G2/M</text>
<line x1="35.10" y1="218.60" x2="84.20" y2="218.60" stroke="#1e1e1e" stroke-width="1.15"/>
<line x1="49.30" y1="218.60" x2="49.30" y2="221.20" stroke="#1e1e1e" stroke-width="0.9"/>
<line x1="72.30" y1="218.60" x2="72.30" y2="221.20" stroke="#1e1e1e" stroke-width="0.9"/>
<text x="49.30" y="229.80" font-size="5.8" text-anchor="middle" fill="#444" stroke="#444" stroke-width="0.22" textLength="9.00" lengthAdjust="spacingAndGlyphs">+/−</text>
<text x="72.30" y="229.80" font-size="5.8" text-anchor="middle" fill="#444" stroke="#444" stroke-width="0.22" textLength="8.60" lengthAdjust="spacingAndGlyphs">−/−</text>
<line x1="49.50" y1="179.50" x2="49.50" y2="182.50" stroke="#555" stroke-width="0.8"/>
<line x1="46.00" y1="179.50" x2="53.00" y2="179.50" stroke="#555" stroke-width="0.8"/>
<line x1="46.00" y1="182.50" x2="53.00" y2="182.50" stroke="#555" stroke-width="0.8"/>
<circle cx="43.00" cy="179.10" r="1.35" fill="#A8112B"/>
<circle cx="47.60" cy="177.60" r="1.35" fill="#A8112B"/>
<circle cx="46.40" cy="180.60" r="1.35" fill="#A8112B"/>
<circle cx="55.90" cy="183.00" r="1.35" fill="#A8112B"/>
<circle cx="43.40" cy="184.70" r="1.35" fill="#A8112B"/>
<circle cx="51.20" cy="183.00" r="1.35" fill="#A8112B"/>
<circle cx="52.00" cy="180.60" r="1.35" fill="#A8112B"/>
<line x1="72.50" y1="175.00" x2="72.50" y2="180.50" stroke="#1e1e1e" stroke-width="0.95"/>
<line x1="68.00" y1="175.00" x2="77.00" y2="175.00" stroke="#1e1e1e" stroke-width="0.95"/>
<line x1="68.00" y1="180.50" x2="77.00" y2="180.50" stroke="#1e1e1e" stroke-width="0.95"/>
<rect x="71.25" y="165.15" width="2.5" height="2.5" fill="#1D3B6E"/>
<rect x="71.25" y="172.05" width="2.5" height="2.5" fill="#1D3B6E"/>
<rect x="74.45" y="176.65" width="2.5" height="2.5" fill="#1D3B6E"/>
<rect x="68.35" y="178.95" width="2.5" height="2.5" fill="#1D3B6E"/>
<rect x="68.35" y="183.25" width="2.5" height="2.5" fill="#1D3B6E"/>
<rect x="73.95" y="183.25" width="2.5" height="2.5" fill="#1D3B6E"/>
<rect x="134.20" y="184.20" width="15.00" height="34.20" fill="#DE7668"/>
<rect x="157.30" y="183.30" width="14.50" height="35.10" fill="#7482B4"/>
<line x1="130.30" y1="218.90" x2="130.30" y2="147.00" stroke="#1e1e1e" stroke-width="1.15"/>
<line x1="127.40" y1="218.40" x2="130.30" y2="218.40" stroke="#1e1e1e" stroke-width="0.9"/>
<text x="124.80" y="220.64" font-size="6.3" text-anchor="end" fill="#3a3a3a" stroke="#3a3a3a" stroke-width="0.1" textLength="3.34" lengthAdjust="spacingAndGlyphs">0</text>
<line x1="127.40" y1="201.18" x2="130.30" y2="201.18" stroke="#1e1e1e" stroke-width="0.9"/>
<text x="124.80" y="203.41" font-size="6.3" text-anchor="end" fill="#3a3a3a" stroke="#3a3a3a" stroke-width="0.1" textLength="6.68" lengthAdjust="spacingAndGlyphs">20</text>
<line x1="127.40" y1="183.95" x2="130.30" y2="183.95" stroke="#1e1e1e" stroke-width="0.9"/>
<text x="124.80" y="186.19" font-size="6.3" text-anchor="end" fill="#3a3a3a" stroke="#3a3a3a" stroke-width="0.1" textLength="6.68" lengthAdjust="spacingAndGlyphs">40</text>
<line x1="127.40" y1="166.73" x2="130.30" y2="166.73" stroke="#1e1e1e" stroke-width="0.9"/>
<text x="124.80" y="168.96" font-size="6.3" text-anchor="end" fill="#3a3a3a" stroke="#3a3a3a" stroke-width="0.1" textLength="6.68" lengthAdjust="spacingAndGlyphs">60</text>
<line x1="127.40" y1="149.50" x2="130.30" y2="149.50" stroke="#1e1e1e" stroke-width="0.9"/>
<text x="124.80" y="151.74" font-size="6.3" text-anchor="end" fill="#3a3a3a" stroke="#3a3a3a" stroke-width="0.1" textLength="6.68" lengthAdjust="spacingAndGlyphs">80</text>
<text x="112.00" y="182.00" font-size="6.6" text-anchor="middle" fill="#333" stroke="#333" stroke-width="0.22" textLength="26.00" lengthAdjust="spacingAndGlyphs" transform="rotate(-90 112.00 182.00)">% S/G2/M</text>
<line x1="127.40" y1="218.40" x2="176.50" y2="218.40" stroke="#1e1e1e" stroke-width="1.15"/>
<line x1="141.70" y1="218.40" x2="141.70" y2="221.00" stroke="#1e1e1e" stroke-width="0.9"/>
<line x1="164.80" y1="218.40" x2="164.80" y2="221.00" stroke="#1e1e1e" stroke-width="0.9"/>
<text x="141.70" y="229.80" font-size="5.8" text-anchor="middle" fill="#444" stroke="#444" stroke-width="0.22" textLength="9.00" lengthAdjust="spacingAndGlyphs">+/−</text>
<text x="164.80" y="229.80" font-size="5.8" text-anchor="middle" fill="#444" stroke="#444" stroke-width="0.22" textLength="8.60" lengthAdjust="spacingAndGlyphs">−/−</text>
<line x1="141.70" y1="182.00" x2="141.70" y2="185.50" stroke="#1e1e1e" stroke-width="0.95"/>
<line x1="137.20" y1="182.00" x2="146.20" y2="182.00" stroke="#1e1e1e" stroke-width="0.95"/>
<line x1="137.20" y1="185.50" x2="146.20" y2="185.50" stroke="#1e1e1e" stroke-width="0.95"/>
<circle cx="135.50" cy="178.10" r="1.35" fill="#A8112B"/>
<circle cx="141.70" cy="179.30" r="1.35" fill="#A8112B"/>
<circle cx="148.10" cy="183.50" r="1.35" fill="#A8112B"/>
<circle cx="148.10" cy="186.80" r="1.35" fill="#A8112B"/>
<circle cx="135.50" cy="187.70" r="1.35" fill="#A8112B"/>
<circle cx="141.70" cy="185.00" r="1.35" fill="#A8112B"/>
<line x1="164.60" y1="181.50" x2="164.60" y2="184.50" stroke="#1e1e1e" stroke-width="0.95"/>
<line x1="159.10" y1="181.50" x2="170.10" y2="181.50" stroke="#1e1e1e" stroke-width="0.95"/>
<line x1="159.10" y1="184.50" x2="170.10" y2="184.50" stroke="#1e1e1e" stroke-width="0.95"/>
<rect x="157.25" y="179.75" width="2.5" height="2.5" fill="#1D3B6E"/>
<rect x="166.05" y="179.75" width="2.5" height="2.5" fill="#1D3B6E"/>
<rect x="169.95" y="179.75" width="2.5" height="2.5" fill="#1D3B6E"/>
<rect x="161.65" y="185.55" width="2.5" height="2.5" fill="#1D3B6E"/>
<rect x="165.95" y="183.75" width="2.5" height="2.5" fill="#1D3B6E"/>
<rect x="161.45" y="182.05" width="2.5" height="2.5" fill="#1D3B6E"/>
<rect x="231.20" y="175.10" width="14.70" height="43.30" fill="#DE7668"/>
<rect x="254.50" y="164.30" width="12.40" height="54.10" fill="#7482B4"/>
<line x1="227.30" y1="218.90" x2="227.30" y2="147.00" stroke="#1e1e1e" stroke-width="1.15"/>
<line x1="224.40" y1="218.40" x2="227.30" y2="218.40" stroke="#1e1e1e" stroke-width="0.9"/>
<text x="221.80" y="220.64" font-size="6.3" text-anchor="end" fill="#3a3a3a" stroke="#3a3a3a" stroke-width="0.1" textLength="3.34" lengthAdjust="spacingAndGlyphs">0</text>
<line x1="224.40" y1="204.62" x2="227.30" y2="204.62" stroke="#1e1e1e" stroke-width="0.9"/>
<text x="221.80" y="206.86" font-size="6.3" text-anchor="end" fill="#3a3a3a" stroke="#3a3a3a" stroke-width="0.1" textLength="6.68" lengthAdjust="spacingAndGlyphs">20</text>
<line x1="224.40" y1="190.84" x2="227.30" y2="190.84" stroke="#1e1e1e" stroke-width="0.9"/>
<text x="221.80" y="193.08" font-size="6.3" text-anchor="end" fill="#3a3a3a" stroke="#3a3a3a" stroke-width="0.1" textLength="6.68" lengthAdjust="spacingAndGlyphs">40</text>
<line x1="224.40" y1="177.06" x2="227.30" y2="177.06" stroke="#1e1e1e" stroke-width="0.9"/>
<text x="221.80" y="179.30" font-size="6.3" text-anchor="end" fill="#3a3a3a" stroke="#3a3a3a" stroke-width="0.1" textLength="6.68" lengthAdjust="spacingAndGlyphs">60</text>
<line x1="224.40" y1="163.28" x2="227.30" y2="163.28" stroke="#1e1e1e" stroke-width="0.9"/>
<text x="221.80" y="165.52" font-size="6.3" text-anchor="end" fill="#3a3a3a" stroke="#3a3a3a" stroke-width="0.1" textLength="6.68" lengthAdjust="spacingAndGlyphs">80</text>
<line x1="224.40" y1="149.50" x2="227.30" y2="149.50" stroke="#1e1e1e" stroke-width="0.9"/>
<text x="221.80" y="151.74" font-size="6.3" text-anchor="end" fill="#3a3a3a" stroke="#3a3a3a" stroke-width="0.1" textLength="10.02" lengthAdjust="spacingAndGlyphs">100</text>
<text x="205.20" y="183.10" font-size="6.6" text-anchor="middle" fill="#333" stroke="#333" stroke-width="0.22" textLength="23.00" lengthAdjust="spacingAndGlyphs" transform="rotate(-90 205.20 183.10)">% BrdU+</text>
<line x1="224.40" y1="218.40" x2="273.00" y2="218.40" stroke="#1e1e1e" stroke-width="1.15"/>
<line x1="238.80" y1="218.40" x2="238.80" y2="221.00" stroke="#1e1e1e" stroke-width="0.9"/>
<line x1="261.00" y1="218.40" x2="261.00" y2="221.00" stroke="#1e1e1e" stroke-width="0.9"/>
<text x="238.80" y="229.80" font-size="5.8" text-anchor="middle" fill="#444" stroke="#444" stroke-width="0.22" textLength="9.00" lengthAdjust="spacingAndGlyphs">+/−</text>
<text x="261.00" y="229.80" font-size="5.8" text-anchor="middle" fill="#444" stroke="#444" stroke-width="0.22" textLength="8.60" lengthAdjust="spacingAndGlyphs">−/−</text>
<line x1="238.80" y1="172.20" x2="238.80" y2="176.50" stroke="#1e1e1e" stroke-width="0.95"/>
<line x1="233.80" y1="172.20" x2="243.80" y2="172.20" stroke="#1e1e1e" stroke-width="0.95"/>
<line x1="233.80" y1="176.50" x2="243.80" y2="176.50" stroke="#1e1e1e" stroke-width="0.95"/>
<circle cx="238.30" cy="160.30" r="1.35" fill="#A8112B"/>
<circle cx="232.30" cy="172.20" r="1.35" fill="#A8112B"/>
<circle cx="244.90" cy="170.80" r="1.35" fill="#A8112B"/>
<circle cx="240.90" cy="174.40" r="1.35" fill="#A8112B"/>
<circle cx="232.30" cy="176.10" r="1.35" fill="#A8112B"/>
<circle cx="244.90" cy="176.10" r="1.35" fill="#A8112B"/>
<circle cx="236.90" cy="184.40" r="1.35" fill="#A8112B"/>
<circle cx="240.90" cy="181.80" r="1.35" fill="#A8112B"/>
<circle cx="236.90" cy="176.00" r="1.35" fill="#A8112B"/>
<line x1="261.70" y1="159.30" x2="261.70" y2="167.90" stroke="#1e1e1e" stroke-width="1.0"/>
<line x1="256.95" y1="159.30" x2="266.45" y2="159.30" stroke="#1e1e1e" stroke-width="1.0"/>
<line x1="256.95" y1="167.90" x2="266.45" y2="167.90" stroke="#1e1e1e" stroke-width="1.0"/>
<rect x="260.45" y="152.35" width="2.5" height="2.5" fill="#1D3B6E"/>
<rect x="260.45" y="159.45" width="2.5" height="2.5" fill="#1D3B6E"/>
<rect x="260.45" y="173.85" width="2.5" height="2.5" fill="#1D3B6E"/>
<text x="250.90" y="147.00" font-size="7.0" text-anchor="middle" fill="#333" stroke="#333" stroke-width="0.22">*</text>
<line x1="237.80" y1="147.00" x2="264.20" y2="147.00" stroke="#1e1e1e" stroke-width="1.1"/>
<rect x="325.00" y="182.60" width="15.00" height="35.80" fill="#DE7668"/>
<rect x="348.20" y="180.90" width="14.60" height="37.50" fill="#7482B4"/>
<line x1="320.90" y1="218.90" x2="320.90" y2="147.00" stroke="#1e1e1e" stroke-width="1.15"/>
<line x1="318.00" y1="218.40" x2="320.90" y2="218.40" stroke="#1e1e1e" stroke-width="0.9"/>
<text x="315.40" y="220.64" font-size="6.3" text-anchor="end" fill="#3a3a3a" stroke="#3a3a3a" stroke-width="0.1" textLength="3.34" lengthAdjust="spacingAndGlyphs">0</text>
<line x1="318.00" y1="204.62" x2="320.90" y2="204.62" stroke="#1e1e1e" stroke-width="0.9"/>
<text x="315.40" y="206.86" font-size="6.3" text-anchor="end" fill="#3a3a3a" stroke="#3a3a3a" stroke-width="0.1" textLength="6.68" lengthAdjust="spacingAndGlyphs">10</text>
<line x1="318.00" y1="190.84" x2="320.90" y2="190.84" stroke="#1e1e1e" stroke-width="0.9"/>
<text x="315.40" y="193.08" font-size="6.3" text-anchor="end" fill="#3a3a3a" stroke="#3a3a3a" stroke-width="0.1" textLength="6.68" lengthAdjust="spacingAndGlyphs">20</text>
<line x1="318.00" y1="177.06" x2="320.90" y2="177.06" stroke="#1e1e1e" stroke-width="0.9"/>
<text x="315.40" y="179.30" font-size="6.3" text-anchor="end" fill="#3a3a3a" stroke="#3a3a3a" stroke-width="0.1" textLength="6.68" lengthAdjust="spacingAndGlyphs">30</text>
<line x1="318.00" y1="163.28" x2="320.90" y2="163.28" stroke="#1e1e1e" stroke-width="0.9"/>
<text x="315.40" y="165.52" font-size="6.3" text-anchor="end" fill="#3a3a3a" stroke="#3a3a3a" stroke-width="0.1" textLength="6.68" lengthAdjust="spacingAndGlyphs">40</text>
<line x1="318.00" y1="149.50" x2="320.90" y2="149.50" stroke="#1e1e1e" stroke-width="0.9"/>
<text x="315.40" y="151.74" font-size="6.3" text-anchor="end" fill="#3a3a3a" stroke="#3a3a3a" stroke-width="0.1" textLength="6.68" lengthAdjust="spacingAndGlyphs">50</text>
<text x="301.80" y="182.40" font-size="6.6" text-anchor="middle" fill="#333" stroke="#333" stroke-width="0.22" textLength="26.00" lengthAdjust="spacingAndGlyphs" transform="rotate(-90 301.80 182.40)">% S/G2/M</text>
<line x1="318.00" y1="218.40" x2="367.00" y2="218.40" stroke="#1e1e1e" stroke-width="1.15"/>
<line x1="332.40" y1="218.40" x2="332.40" y2="221.00" stroke="#1e1e1e" stroke-width="0.9"/>
<line x1="355.70" y1="218.40" x2="355.70" y2="221.00" stroke="#1e1e1e" stroke-width="0.9"/>
<text x="332.40" y="229.80" font-size="5.8" text-anchor="middle" fill="#444" stroke="#444" stroke-width="0.22" textLength="9.00" lengthAdjust="spacingAndGlyphs">+/−</text>
<text x="355.70" y="229.80" font-size="5.8" text-anchor="middle" fill="#444" stroke="#444" stroke-width="0.22" textLength="8.60" lengthAdjust="spacingAndGlyphs">−/−</text>
<line x1="332.60" y1="179.20" x2="332.60" y2="183.50" stroke="#1e1e1e" stroke-width="0.95"/>
<line x1="328.60" y1="179.20" x2="336.60" y2="179.20" stroke="#1e1e1e" stroke-width="0.95"/>
<line x1="328.60" y1="183.50" x2="336.60" y2="183.50" stroke="#1e1e1e" stroke-width="0.95"/>
<circle cx="325.90" cy="177.00" r="1.35" fill="#A8112B"/>
<circle cx="332.30" cy="176.60" r="1.35" fill="#A8112B"/>
<circle cx="339.00" cy="178.70" r="1.35" fill="#A8112B"/>
<circle cx="339.00" cy="184.30" r="1.35" fill="#A8112B"/>
<circle cx="326.10" cy="187.10" r="1.35" fill="#A8112B"/>
<line x1="355.50" y1="179.20" x2="355.50" y2="181.70" stroke="#1e1e1e" stroke-width="1.0"/>
<line x1="349.50" y1="179.20" x2="361.50" y2="179.20" stroke="#1e1e1e" stroke-width="1.0"/>
<line x1="349.50" y1="181.70" x2="361.50" y2="181.70" stroke="#1e1e1e" stroke-width="1.0"/>
<rect x="354.05" y="174.05" width="2.5" height="2.5" fill="#1D3B6E"/>
<rect x="351.25" y="178.35" width="2.5" height="2.5" fill="#1D3B6E"/>
<rect x="357.65" y="178.35" width="2.5" height="2.5" fill="#1D3B6E"/>
<rect x="351.25" y="183.55" width="2.5" height="2.5" fill="#1D3B6E"/>
<rect x="357.25" y="182.05" width="2.5" height="2.5" fill="#1D3B6E"/>
<line x1="409.30" y1="219.30" x2="409.30" y2="147.50" stroke="#1e1e1e" stroke-width="1.15"/>
<line x1="406.40" y1="218.80" x2="409.30" y2="218.80" stroke="#1e1e1e" stroke-width="0.9"/>
<text x="403.80" y="221.04" font-size="6.3" text-anchor="end" fill="#3a3a3a" stroke="#3a3a3a" stroke-width="0.1" textLength="3.34" lengthAdjust="spacingAndGlyphs">0</text>
<line x1="406.40" y1="205.04" x2="409.30" y2="205.04" stroke="#1e1e1e" stroke-width="0.9"/>
<text x="403.80" y="207.28" font-size="6.3" text-anchor="end" fill="#3a3a3a" stroke="#3a3a3a" stroke-width="0.1" textLength="3.34" lengthAdjust="spacingAndGlyphs">5</text>
<line x1="406.40" y1="191.28" x2="409.30" y2="191.28" stroke="#1e1e1e" stroke-width="0.9"/>
<text x="403.80" y="193.52" font-size="6.3" text-anchor="end" fill="#3a3a3a" stroke="#3a3a3a" stroke-width="0.1" textLength="6.68" lengthAdjust="spacingAndGlyphs">10</text>
<line x1="406.40" y1="177.52" x2="409.30" y2="177.52" stroke="#1e1e1e" stroke-width="0.9"/>
<text x="403.80" y="179.76" font-size="6.3" text-anchor="end" fill="#3a3a3a" stroke="#3a3a3a" stroke-width="0.1" textLength="6.68" lengthAdjust="spacingAndGlyphs">15</text>
<line x1="406.40" y1="163.76" x2="409.30" y2="163.76" stroke="#1e1e1e" stroke-width="0.9"/>
<text x="403.80" y="166.00" font-size="6.3" text-anchor="end" fill="#3a3a3a" stroke="#3a3a3a" stroke-width="0.1" textLength="6.68" lengthAdjust="spacingAndGlyphs">20</text>
<line x1="406.40" y1="150.00" x2="409.30" y2="150.00" stroke="#1e1e1e" stroke-width="0.9"/>
<text x="403.80" y="152.24" font-size="6.3" text-anchor="end" fill="#3a3a3a" stroke="#3a3a3a" stroke-width="0.1" textLength="6.68" lengthAdjust="spacingAndGlyphs">25</text>
<text x="390.80" y="183.10" font-size="6.6" text-anchor="middle" fill="#333" stroke="#333" stroke-width="0.22" textLength="38.20" lengthAdjust="spacingAndGlyphs" transform="rotate(-90 390.80 183.10)">% Annexin V +</text>
<rect x="413.00" y="206.70" width="7.40" height="12.10" fill="#DE7668"/>
<rect x="422.60" y="204.80" width="7.40" height="14.00" fill="#7482B4"/>
<rect x="439.50" y="209.40" width="6.80" height="9.40" fill="#DE7668"/>
<rect x="449.00" y="208.50" width="7.30" height="10.30" fill="#7482B4"/>
<rect x="466.70" y="215.60" width="6.80" height="3.20" fill="#DE7668"/>
<rect x="476.20" y="216.20" width="6.80" height="2.60" fill="#7482B4"/>
<rect x="493.00" y="186.30" width="7.00" height="32.50" fill="#DE7668"/>
<rect x="503.40" y="202.00" width="6.80" height="16.80" fill="#7482B4"/>
<line x1="406.40" y1="218.80" x2="513.00" y2="218.80" stroke="#1e1e1e" stroke-width="1.15"/>
<line x1="421.20" y1="218.80" x2="421.20" y2="221.40" stroke="#1e1e1e" stroke-width="0.9"/>
<line x1="447.80" y1="218.80" x2="447.80" y2="221.40" stroke="#1e1e1e" stroke-width="0.9"/>
<line x1="474.90" y1="218.80" x2="474.90" y2="221.40" stroke="#1e1e1e" stroke-width="0.9"/>
<line x1="501.80" y1="218.80" x2="501.80" y2="221.40" stroke="#1e1e1e" stroke-width="0.9"/>
<circle cx="413.47" cy="199.89" r="0.85" fill="#A8112B"/>
<circle cx="416.34" cy="199.64" r="0.85" fill="#A8112B"/>
<circle cx="418.13" cy="200.02" r="0.85" fill="#A8112B"/>
<circle cx="415.39" cy="203.01" r="0.85" fill="#A8112B"/>
<circle cx="417.33" cy="202.68" r="0.85" fill="#A8112B"/>
<circle cx="419.03" cy="202.85" r="0.85" fill="#A8112B"/>
<circle cx="413.98" cy="205.82" r="0.85" fill="#A8112B"/>
<circle cx="416.53" cy="206.01" r="0.85" fill="#A8112B"/>
<circle cx="418.15" cy="205.78" r="0.85" fill="#A8112B"/>
<circle cx="415.62" cy="209.95" r="0.85" fill="#A8112B"/>
<circle cx="417.78" cy="209.81" r="0.85" fill="#A8112B"/>
<circle cx="419.07" cy="209.46" r="0.85" fill="#A8112B"/>
<circle cx="413.87" cy="212.54" r="0.85" fill="#A8112B"/>
<circle cx="416.72" cy="212.84" r="0.85" fill="#A8112B"/>
<circle cx="418.06" cy="213.38" r="0.85" fill="#A8112B"/>
<circle cx="414.57" cy="216.85" r="0.85" fill="#A8112B"/>
<line x1="416.70" y1="199.00" x2="416.70" y2="212.00" stroke="#A8112B" stroke-width="0.7"/>
<line x1="414.95" y1="199.00" x2="418.45" y2="199.00" stroke="#A8112B" stroke-width="0.7"/>
<line x1="414.95" y1="212.00" x2="418.45" y2="212.00" stroke="#A8112B" stroke-width="0.7"/>
<rect x="423.13" y="191.52" width="1.6" height="1.6" fill="#1D3B6E"/>
<rect x="424.35" y="192.55" width="1.6" height="1.6" fill="#1D3B6E"/>
<rect x="426.87" y="191.49" width="1.6" height="1.6" fill="#1D3B6E"/>
<rect x="423.93" y="197.26" width="1.6" height="1.6" fill="#1D3B6E"/>
<rect x="426.55" y="197.13" width="1.6" height="1.6" fill="#1D3B6E"/>
<rect x="428.97" y="197.23" width="1.6" height="1.6" fill="#1D3B6E"/>
<rect x="422.70" y="203.47" width="1.6" height="1.6" fill="#1D3B6E"/>
<rect x="425.14" y="203.46" width="1.6" height="1.6" fill="#1D3B6E"/>
<rect x="427.50" y="202.41" width="1.6" height="1.6" fill="#1D3B6E"/>
<rect x="424.21" y="208.56" width="1.6" height="1.6" fill="#1D3B6E"/>
<rect x="425.86" y="208.08" width="1.6" height="1.6" fill="#1D3B6E"/>
<rect x="428.84" y="208.55" width="1.6" height="1.6" fill="#1D3B6E"/>
<rect x="423.11" y="214.28" width="1.6" height="1.6" fill="#1D3B6E"/>
<rect x="425.47" y="214.03" width="1.6" height="1.6" fill="#1D3B6E"/>
<rect x="427.49" y="214.08" width="1.6" height="1.6" fill="#1D3B6E"/>
<line x1="426.30" y1="194.00" x2="426.30" y2="215.00" stroke="#1D3B6E" stroke-width="0.7"/>
<line x1="424.55" y1="194.00" x2="428.05" y2="194.00" stroke="#1D3B6E" stroke-width="0.7"/>
<line x1="424.55" y1="215.00" x2="428.05" y2="215.00" stroke="#1D3B6E" stroke-width="0.7"/>
<circle cx="440.83" cy="201.44" r="0.85" fill="#A8112B"/>
<circle cx="442.85" cy="200.40" r="0.85" fill="#A8112B"/>
<circle cx="444.56" cy="200.81" r="0.85" fill="#A8112B"/>
<circle cx="441.39" cy="204.26" r="0.85" fill="#A8112B"/>
<circle cx="443.05" cy="204.63" r="0.85" fill="#A8112B"/>
<circle cx="445.15" cy="204.65" r="0.85" fill="#A8112B"/>
<circle cx="439.80" cy="208.00" r="0.85" fill="#A8112B"/>
<circle cx="442.64" cy="208.41" r="0.85" fill="#A8112B"/>
<circle cx="444.47" cy="208.78" r="0.85" fill="#A8112B"/>
<circle cx="441.18" cy="211.77" r="0.85" fill="#A8112B"/>
<circle cx="443.76" cy="212.41" r="0.85" fill="#A8112B"/>
<circle cx="445.67" cy="212.45" r="0.85" fill="#A8112B"/>
<circle cx="440.88" cy="215.94" r="0.85" fill="#A8112B"/>
<line x1="442.90" y1="201.00" x2="442.90" y2="214.00" stroke="#A8112B" stroke-width="0.7"/>
<line x1="441.15" y1="201.00" x2="444.65" y2="201.00" stroke="#A8112B" stroke-width="0.7"/>
<line x1="441.15" y1="214.00" x2="444.65" y2="214.00" stroke="#A8112B" stroke-width="0.7"/>
<rect x="449.31" y="203.48" width="1.6" height="1.6" fill="#1D3B6E"/>
<rect x="450.91" y="203.67" width="1.6" height="1.6" fill="#1D3B6E"/>
<rect x="453.16" y="203.28" width="1.6" height="1.6" fill="#1D3B6E"/>
<rect x="449.69" y="207.13" width="1.6" height="1.6" fill="#1D3B6E"/>
<rect x="451.99" y="207.07" width="1.6" height="1.6" fill="#1D3B6E"/>
<rect x="454.91" y="207.14" width="1.6" height="1.6" fill="#1D3B6E"/>
<rect x="448.99" y="211.01" width="1.6" height="1.6" fill="#1D3B6E"/>
<rect x="451.88" y="210.11" width="1.6" height="1.6" fill="#1D3B6E"/>
<rect x="453.55" y="211.12" width="1.6" height="1.6" fill="#1D3B6E"/>
<rect x="450.46" y="214.26" width="1.6" height="1.6" fill="#1D3B6E"/>
<rect x="452.17" y="214.87" width="1.6" height="1.6" fill="#1D3B6E"/>
<rect x="451.80" y="194.70" width="1.6" height="1.6" fill="#1D3B6E"/>
<line x1="452.60" y1="204.00" x2="452.60" y2="213.00" stroke="#1D3B6E" stroke-width="0.7"/>
<line x1="450.85" y1="204.00" x2="454.35" y2="204.00" stroke="#1D3B6E" stroke-width="0.7"/>
<line x1="450.85" y1="213.00" x2="454.35" y2="213.00" stroke="#1D3B6E" stroke-width="0.7"/>
<circle cx="467.35" cy="214.01" r="0.85" fill="#A8112B"/>
<circle cx="469.91" cy="213.16" r="0.85" fill="#A8112B"/>
<circle cx="471.95" cy="213.66" r="0.85" fill="#A8112B"/>
<circle cx="467.95" cy="217.04" r="0.85" fill="#A8112B"/>
<circle cx="470.21" cy="216.27" r="0.85" fill="#A8112B"/>
<circle cx="472.41" cy="216.61" r="0.85" fill="#A8112B"/>
<circle cx="470.10" cy="209.20" r="0.85" fill="#A8112B"/>
<line x1="470.10" y1="211.80" x2="470.10" y2="217.00" stroke="#A8112B" stroke-width="0.7"/>
<line x1="468.35" y1="211.80" x2="471.85" y2="211.80" stroke="#A8112B" stroke-width="0.7"/>
<line x1="468.35" y1="217.00" x2="471.85" y2="217.00" stroke="#A8112B" stroke-width="0.7"/>
<rect x="476.50" y="214.47" width="1.6" height="1.6" fill="#1D3B6E"/>
<rect x="477.85" y="214.95" width="1.6" height="1.6" fill="#1D3B6E"/>
<rect x="479.67" y="215.16" width="1.6" height="1.6" fill="#1D3B6E"/>
<rect x="477.52" y="215.53" width="1.6" height="1.6" fill="#1D3B6E"/>
<rect x="479.42" y="216.08" width="1.6" height="1.6" fill="#1D3B6E"/>
<line x1="496.50" y1="169.50" x2="496.50" y2="202.00" stroke="#1e1e1e" stroke-width="0.7"/>
<line x1="494.00" y1="169.50" x2="499.00" y2="169.50" stroke="#1e1e1e" stroke-width="0.7"/>
<line x1="494.00" y1="202.00" x2="499.00" y2="202.00" stroke="#1e1e1e" stroke-width="0.7"/>
<circle cx="496.50" cy="160.00" r="0.9" fill="#A8112B"/>
<circle cx="493.80" cy="179.50" r="0.9" fill="#A8112B"/>
<circle cx="499.50" cy="180.50" r="0.9" fill="#A8112B"/>
<circle cx="496.50" cy="196.00" r="0.9" fill="#A8112B"/>
<line x1="506.80" y1="190.50" x2="506.80" y2="212.30" stroke="#1e1e1e" stroke-width="0.7"/>
<line x1="504.30" y1="190.50" x2="509.30" y2="190.50" stroke="#1e1e1e" stroke-width="0.7"/>
<line x1="504.30" y1="212.30" x2="509.30" y2="212.30" stroke="#1e1e1e" stroke-width="0.7"/>
<rect x="506.00" y="188.70" width="1.6" height="1.6" fill="#1D3B6E"/>
<rect x="504.20" y="194.20" width="1.6" height="1.6" fill="#1D3B6E"/>
<rect x="507.70" y="201.20" width="1.6" height="1.6" fill="#1D3B6E"/>
<rect x="505.70" y="206.20" width="1.6" height="1.6" fill="#1D3B6E"/>
<text x="421.60" y="230.10" font-size="7.0" text-anchor="middle" fill="#333" stroke="#333" stroke-width="0.22" textLength="12.30" lengthAdjust="spacingAndGlyphs">HSC</text>
<text x="448.30" y="230.10" font-size="7.0" text-anchor="middle" fill="#333" stroke="#333" stroke-width="0.22" textLength="12.70" lengthAdjust="spacingAndGlyphs">MPP</text>
<text x="473.70" y="230.10" font-size="7.0" text-anchor="middle" fill="#333" stroke="#333" stroke-width="0.22" textLength="15.70" lengthAdjust="spacingAndGlyphs">pGM</text>
<text x="502.60" y="230.10" font-size="7.0" text-anchor="middle" fill="#333" stroke="#333" stroke-width="0.22" textLength="15.10" lengthAdjust="spacingAndGlyphs">GMP</text>
<text x="412.60" y="153.90" font-size="8.2" text-anchor="start" fill="#CC2E4C" stroke="#CC2E4C" stroke-width="0.22" textLength="18.00" lengthAdjust="spacingAndGlyphs">Ifnar1</text>
<text x="433.50" y="153.90" font-size="8.2" text-anchor="start" fill="#CC2E4C" stroke="#CC2E4C" stroke-width="0.22" textLength="11.50" lengthAdjust="spacingAndGlyphs">+/−</text>
<text x="412.60" y="163.50" font-size="8.2" text-anchor="start" fill="#345F94" stroke="#345F94" stroke-width="0.22" textLength="18.00" lengthAdjust="spacingAndGlyphs">Ifnar1</text>
<text x="433.70" y="163.50" font-size="8.2" text-anchor="start" fill="#345F94" stroke="#345F94" stroke-width="0.22" textLength="11.00" lengthAdjust="spacingAndGlyphs">−/−</text>
<rect x="45.80" y="324.80" width="12.50" height="5.40" fill="#7F4290"/>
<rect x="45.80" y="294.60" width="12.50" height="30.20" fill="#4767AA"/>
<rect x="45.80" y="290.30" width="12.50" height="4.30" fill="#F2C65A"/>
<rect x="45.80" y="282.90" width="12.50" height="7.40" fill="#CE4D4B"/>
<rect x="65.20" y="325.20" width="12.00" height="5.00" fill="#7F4290"/>
<rect x="65.20" y="291.20" width="12.00" height="34.00" fill="#4767AA"/>
<rect x="65.20" y="282.60" width="12.00" height="8.60" fill="#F2C65A"/>
<rect x="65.20" y="279.20" width="12.00" height="3.40" fill="#CE4D4B"/>
<line x1="38.60" y1="330.70" x2="38.60" y2="260.20" stroke="#1e1e1e" stroke-width="1.15"/>
<line x1="35.70" y1="330.20" x2="38.60" y2="330.20" stroke="#1e1e1e" stroke-width="0.9"/>
<text x="33.10" y="332.44" font-size="6.3" text-anchor="end" fill="#3a3a3a" stroke="#3a3a3a" stroke-width="0.1" textLength="3.34" lengthAdjust="spacingAndGlyphs">0</text>
<line x1="35.70" y1="316.70" x2="38.60" y2="316.70" stroke="#1e1e1e" stroke-width="0.9"/>
<text x="33.10" y="318.94" font-size="6.3" text-anchor="end" fill="#3a3a3a" stroke="#3a3a3a" stroke-width="0.1" textLength="6.68" lengthAdjust="spacingAndGlyphs">20</text>
<line x1="35.70" y1="303.20" x2="38.60" y2="303.20" stroke="#1e1e1e" stroke-width="0.9"/>
<text x="33.10" y="305.44" font-size="6.3" text-anchor="end" fill="#3a3a3a" stroke="#3a3a3a" stroke-width="0.1" textLength="6.68" lengthAdjust="spacingAndGlyphs">40</text>
<line x1="35.70" y1="289.70" x2="38.60" y2="289.70" stroke="#1e1e1e" stroke-width="0.9"/>
<text x="33.10" y="291.94" font-size="6.3" text-anchor="end" fill="#3a3a3a" stroke="#3a3a3a" stroke-width="0.1" textLength="6.68" lengthAdjust="spacingAndGlyphs">60</text>
<line x1="35.70" y1="276.20" x2="38.60" y2="276.20" stroke="#1e1e1e" stroke-width="0.9"/>
<text x="33.10" y="278.44" font-size="6.3" text-anchor="end" fill="#3a3a3a" stroke="#3a3a3a" stroke-width="0.1" textLength="6.68" lengthAdjust="spacingAndGlyphs">80</text>
<line x1="35.70" y1="262.70" x2="38.60" y2="262.70" stroke="#1e1e1e" stroke-width="0.9"/>
<text x="33.10" y="264.94" font-size="6.3" text-anchor="end" fill="#3a3a3a" stroke="#3a3a3a" stroke-width="0.1" textLength="10.02" lengthAdjust="spacingAndGlyphs">100</text>
<text x="16.90" y="295.20" font-size="7.0" text-anchor="middle" fill="#333" stroke="#333" stroke-width="0.22" textLength="20.60" lengthAdjust="spacingAndGlyphs" transform="rotate(-90 16.90 295.20)">CFU (%)</text>
<line x1="35.70" y1="330.20" x2="83.60" y2="330.20" stroke="#1e1e1e" stroke-width="1.15"/>
<line x1="51.20" y1="330.20" x2="51.20" y2="332.80" stroke="#1e1e1e" stroke-width="0.9"/>
<line x1="70.10" y1="330.20" x2="70.10" y2="332.80" stroke="#1e1e1e" stroke-width="0.9"/>
<text x="51.20" y="340.80" font-size="5.8" text-anchor="middle" fill="#444" stroke="#444" stroke-width="0.22" textLength="8.90" lengthAdjust="spacingAndGlyphs">+/−</text>
<text x="70.10" y="340.80" font-size="5.8" text-anchor="middle" fill="#444" stroke="#444" stroke-width="0.22" textLength="8.60" lengthAdjust="spacingAndGlyphs">−/−</text>
<line x1="52.00" y1="283.80" x2="52.00" y2="285.50" stroke="#1e1e1e" stroke-width="0.8"/>
<line x1="49.75" y1="283.80" x2="54.25" y2="283.80" stroke="#1e1e1e" stroke-width="0.8"/>
<line x1="49.75" y1="285.50" x2="54.25" y2="285.50" stroke="#1e1e1e" stroke-width="0.8"/>
<line x1="52.00" y1="293.20" x2="52.00" y2="300.60" stroke="#1e1e1e" stroke-width="0.8"/>
<line x1="49.75" y1="293.20" x2="54.25" y2="293.20" stroke="#1e1e1e" stroke-width="0.8"/>
<line x1="49.75" y1="300.60" x2="54.25" y2="300.60" stroke="#1e1e1e" stroke-width="0.8"/>
<line x1="52.00" y1="324.50" x2="52.00" y2="327.00" stroke="#1e1e1e" stroke-width="0.7"/>
<line x1="50.00" y1="324.50" x2="54.00" y2="324.50" stroke="#1e1e1e" stroke-width="0.7"/>
<line x1="50.00" y1="327.00" x2="54.00" y2="327.00" stroke="#1e1e1e" stroke-width="0.7"/>
<line x1="71.00" y1="281.20" x2="71.00" y2="282.50" stroke="#1e1e1e" stroke-width="0.8"/>
<line x1="68.75" y1="281.20" x2="73.25" y2="281.20" stroke="#1e1e1e" stroke-width="0.8"/>
<line x1="68.75" y1="282.50" x2="73.25" y2="282.50" stroke="#1e1e1e" stroke-width="0.8"/>
<line x1="71.00" y1="286.00" x2="71.00" y2="287.50" stroke="#1e1e1e" stroke-width="0.8"/>
<line x1="68.75" y1="286.00" x2="73.25" y2="286.00" stroke="#1e1e1e" stroke-width="0.8"/>
<line x1="68.75" y1="287.50" x2="73.25" y2="287.50" stroke="#1e1e1e" stroke-width="0.8"/>
<line x1="71.00" y1="291.50" x2="71.00" y2="298.90" stroke="#1e1e1e" stroke-width="0.8"/>
<line x1="68.75" y1="291.50" x2="73.25" y2="291.50" stroke="#1e1e1e" stroke-width="0.8"/>
<line x1="68.75" y1="298.90" x2="73.25" y2="298.90" stroke="#1e1e1e" stroke-width="0.8"/>
<line x1="71.00" y1="325.00" x2="71.00" y2="327.50" stroke="#1e1e1e" stroke-width="0.7"/>
<line x1="69.00" y1="325.00" x2="73.00" y2="325.00" stroke="#1e1e1e" stroke-width="0.7"/>
<line x1="69.00" y1="327.50" x2="73.00" y2="327.50" stroke="#1e1e1e" stroke-width="0.7"/>
<rect x="133.00" y="326.60" width="12.20" height="3.60" fill="#6FB450"/>
<rect x="133.00" y="304.10" width="12.20" height="22.50" fill="#7F4290"/>
<rect x="133.00" y="293.30" width="12.20" height="10.80" fill="#4767AA"/>
<line x1="139.10" y1="325.00" x2="139.10" y2="328.50" stroke="#3a7a30" stroke-width="0.8"/>
<line x1="137.35" y1="325.00" x2="140.85" y2="325.00" stroke="#3a7a30" stroke-width="0.8"/>
<line x1="137.35" y1="328.50" x2="140.85" y2="328.50" stroke="#3a7a30" stroke-width="0.8"/>
<rect x="151.60" y="328.60" width="12.20" height="1.60" fill="#6FB450"/>
<rect x="151.60" y="302.60" width="12.20" height="26.00" fill="#7F4290"/>
<rect x="151.60" y="296.60" width="12.20" height="6.00" fill="#4767AA"/>
<line x1="125.90" y1="330.70" x2="125.90" y2="260.20" stroke="#1e1e1e" stroke-width="1.15"/>
<line x1="123.00" y1="330.20" x2="125.90" y2="330.20" stroke="#1e1e1e" stroke-width="0.9"/>
<text x="120.40" y="332.44" font-size="6.3" text-anchor="end" fill="#3a3a3a" stroke="#3a3a3a" stroke-width="0.1" textLength="3.34" lengthAdjust="spacingAndGlyphs">0</text>
<line x1="123.00" y1="316.70" x2="125.90" y2="316.70" stroke="#1e1e1e" stroke-width="0.9"/>
<text x="120.40" y="318.94" font-size="6.3" text-anchor="end" fill="#3a3a3a" stroke="#3a3a3a" stroke-width="0.1" textLength="6.68" lengthAdjust="spacingAndGlyphs">20</text>
<line x1="123.00" y1="303.20" x2="125.90" y2="303.20" stroke="#1e1e1e" stroke-width="0.9"/>
<text x="120.40" y="305.44" font-size="6.3" text-anchor="end" fill="#3a3a3a" stroke="#3a3a3a" stroke-width="0.1" textLength="6.68" lengthAdjust="spacingAndGlyphs">40</text>
<line x1="123.00" y1="289.70" x2="125.90" y2="289.70" stroke="#1e1e1e" stroke-width="0.9"/>
<text x="120.40" y="291.94" font-size="6.3" text-anchor="end" fill="#3a3a3a" stroke="#3a3a3a" stroke-width="0.1" textLength="6.68" lengthAdjust="spacingAndGlyphs">60</text>
<line x1="123.00" y1="276.20" x2="125.90" y2="276.20" stroke="#1e1e1e" stroke-width="0.9"/>
<text x="120.40" y="278.44" font-size="6.3" text-anchor="end" fill="#3a3a3a" stroke="#3a3a3a" stroke-width="0.1" textLength="6.68" lengthAdjust="spacingAndGlyphs">80</text>
<line x1="123.00" y1="262.70" x2="125.90" y2="262.70" stroke="#1e1e1e" stroke-width="0.9"/>
<text x="120.40" y="264.94" font-size="6.3" text-anchor="end" fill="#3a3a3a" stroke="#3a3a3a" stroke-width="0.1" textLength="10.02" lengthAdjust="spacingAndGlyphs">100</text>
<text x="104.10" y="295.20" font-size="7.0" text-anchor="middle" fill="#333" stroke="#333" stroke-width="0.22" textLength="20.60" lengthAdjust="spacingAndGlyphs" transform="rotate(-90 104.10 295.20)">CFU (%)</text>
<line x1="123.00" y1="330.20" x2="171.50" y2="330.20" stroke="#1e1e1e" stroke-width="1.15"/>
<line x1="139.00" y1="330.20" x2="139.00" y2="332.80" stroke="#1e1e1e" stroke-width="0.9"/>
<line x1="158.00" y1="330.20" x2="158.00" y2="332.80" stroke="#1e1e1e" stroke-width="0.9"/>
<text x="139.00" y="340.80" font-size="5.8" text-anchor="middle" fill="#444" stroke="#444" stroke-width="0.22" textLength="8.90" lengthAdjust="spacingAndGlyphs">+/−</text>
<text x="158.00" y="340.80" font-size="5.8" text-anchor="middle" fill="#444" stroke="#444" stroke-width="0.22" textLength="8.60" lengthAdjust="spacingAndGlyphs">−/−</text>
<line x1="139.10" y1="293.80" x2="139.10" y2="298.30" stroke="#1e1e1e" stroke-width="0.8"/>
<line x1="136.60" y1="293.80" x2="141.60" y2="293.80" stroke="#1e1e1e" stroke-width="0.8"/>
<line x1="136.60" y1="298.30" x2="141.60" y2="298.30" stroke="#1e1e1e" stroke-width="0.8"/>
<line x1="139.10" y1="304.50" x2="139.10" y2="316.20" stroke="#1e1e1e" stroke-width="0.8"/>
<line x1="136.60" y1="304.50" x2="141.60" y2="304.50" stroke="#1e1e1e" stroke-width="0.8"/>
<line x1="136.60" y1="316.20" x2="141.60" y2="316.20" stroke="#1e1e1e" stroke-width="0.8"/>
<line x1="157.70" y1="297.00" x2="157.70" y2="298.50" stroke="#1e1e1e" stroke-width="0.8"/>
<line x1="155.20" y1="297.00" x2="160.20" y2="297.00" stroke="#1e1e1e" stroke-width="0.8"/>
<line x1="155.20" y1="298.50" x2="160.20" y2="298.50" stroke="#1e1e1e" stroke-width="0.8"/>
<line x1="157.70" y1="302.80" x2="157.70" y2="309.80" stroke="#1e1e1e" stroke-width="0.8"/>
<line x1="155.20" y1="302.80" x2="160.20" y2="302.80" stroke="#1e1e1e" stroke-width="0.8"/>
<line x1="155.20" y1="309.80" x2="160.20" y2="309.80" stroke="#1e1e1e" stroke-width="0.8"/>
<rect x="220.00" y="329.50" width="11.90" height="0.70" fill="#6FB450"/>
<rect x="220.00" y="298.30" width="11.90" height="31.20" fill="#7F4290"/>
<rect x="220.00" y="294.70" width="11.90" height="3.60" fill="#4767AA"/>
<rect x="239.10" y="329.50" width="11.90" height="0.70" fill="#6FB450"/>
<rect x="239.10" y="296.90" width="11.90" height="32.60" fill="#7F4290"/>
<rect x="239.10" y="288.30" width="11.90" height="8.60" fill="#4767AA"/>
<line x1="212.90" y1="330.70" x2="212.90" y2="260.20" stroke="#1e1e1e" stroke-width="1.15"/>
<line x1="210.00" y1="330.20" x2="212.90" y2="330.20" stroke="#1e1e1e" stroke-width="0.9"/>
<text x="207.40" y="332.44" font-size="6.3" text-anchor="end" fill="#3a3a3a" stroke="#3a3a3a" stroke-width="0.1" textLength="3.34" lengthAdjust="spacingAndGlyphs">0</text>
<line x1="210.00" y1="316.70" x2="212.90" y2="316.70" stroke="#1e1e1e" stroke-width="0.9"/>
<text x="207.40" y="318.94" font-size="6.3" text-anchor="end" fill="#3a3a3a" stroke="#3a3a3a" stroke-width="0.1" textLength="6.68" lengthAdjust="spacingAndGlyphs">20</text>
<line x1="210.00" y1="303.20" x2="212.90" y2="303.20" stroke="#1e1e1e" stroke-width="0.9"/>
<text x="207.40" y="305.44" font-size="6.3" text-anchor="end" fill="#3a3a3a" stroke="#3a3a3a" stroke-width="0.1" textLength="6.68" lengthAdjust="spacingAndGlyphs">40</text>
<line x1="210.00" y1="289.70" x2="212.90" y2="289.70" stroke="#1e1e1e" stroke-width="0.9"/>
<text x="207.40" y="291.94" font-size="6.3" text-anchor="end" fill="#3a3a3a" stroke="#3a3a3a" stroke-width="0.1" textLength="6.68" lengthAdjust="spacingAndGlyphs">60</text>
<line x1="210.00" y1="276.20" x2="212.90" y2="276.20" stroke="#1e1e1e" stroke-width="0.9"/>
<text x="207.40" y="278.44" font-size="6.3" text-anchor="end" fill="#3a3a3a" stroke="#3a3a3a" stroke-width="0.1" textLength="6.68" lengthAdjust="spacingAndGlyphs">80</text>
<line x1="210.00" y1="262.70" x2="212.90" y2="262.70" stroke="#1e1e1e" stroke-width="0.9"/>
<text x="207.40" y="264.94" font-size="6.3" text-anchor="end" fill="#3a3a3a" stroke="#3a3a3a" stroke-width="0.1" textLength="10.02" lengthAdjust="spacingAndGlyphs">100</text>
<text x="190.90" y="295.20" font-size="7.0" text-anchor="middle" fill="#333" stroke="#333" stroke-width="0.22" textLength="20.60" lengthAdjust="spacingAndGlyphs" transform="rotate(-90 190.90 295.20)">CFU (%)</text>
<line x1="210.00" y1="330.20" x2="258.00" y2="330.20" stroke="#1e1e1e" stroke-width="1.15"/>
<line x1="226.00" y1="330.20" x2="226.00" y2="332.80" stroke="#1e1e1e" stroke-width="0.9"/>
<line x1="245.00" y1="330.20" x2="245.00" y2="332.80" stroke="#1e1e1e" stroke-width="0.9"/>
<text x="226.00" y="340.80" font-size="5.8" text-anchor="middle" fill="#444" stroke="#444" stroke-width="0.22" textLength="8.90" lengthAdjust="spacingAndGlyphs">+/−</text>
<text x="245.00" y="340.80" font-size="5.8" text-anchor="middle" fill="#444" stroke="#444" stroke-width="0.22" textLength="8.60" lengthAdjust="spacingAndGlyphs">−/−</text>
<line x1="226.00" y1="296.90" x2="226.00" y2="298.00" stroke="#1e1e1e" stroke-width="0.8"/>
<line x1="223.00" y1="296.90" x2="229.00" y2="296.90" stroke="#1e1e1e" stroke-width="0.8"/>
<line x1="223.00" y1="298.00" x2="229.00" y2="298.00" stroke="#1e1e1e" stroke-width="0.8"/>
<line x1="226.00" y1="299.00" x2="226.00" y2="306.20" stroke="#1e1e1e" stroke-width="0.8"/>
<line x1="223.50" y1="299.00" x2="228.50" y2="299.00" stroke="#1e1e1e" stroke-width="0.8"/>
<line x1="223.50" y1="306.20" x2="228.50" y2="306.20" stroke="#1e1e1e" stroke-width="0.8"/>
<line x1="245.00" y1="288.80" x2="245.00" y2="289.50" stroke="#1e1e1e" stroke-width="0.8"/>
<line x1="242.00" y1="288.80" x2="248.00" y2="288.80" stroke="#1e1e1e" stroke-width="0.8"/>
<line x1="242.00" y1="289.50" x2="248.00" y2="289.50" stroke="#1e1e1e" stroke-width="0.8"/>
<line x1="245.00" y1="297.50" x2="245.00" y2="299.80" stroke="#1e1e1e" stroke-width="0.8"/>
<line x1="242.50" y1="297.50" x2="247.50" y2="297.50" stroke="#1e1e1e" stroke-width="0.8"/>
<line x1="242.50" y1="299.80" x2="247.50" y2="299.80" stroke="#1e1e1e" stroke-width="0.8"/>
<rect x="307.00" y="329.60" width="11.80" height="0.60" fill="#6FB450"/>
<rect x="307.00" y="324.50" width="11.80" height="5.10" fill="#7F4290"/>
<rect x="307.00" y="322.00" width="11.80" height="2.50" fill="#4767AA"/>
<rect x="307.00" y="321.40" width="11.80" height="0.60" fill="#F2C65A"/>
<rect x="307.00" y="320.80" width="11.80" height="0.60" fill="#CE4D4B"/>
<rect x="326.10" y="329.40" width="11.90" height="0.80" fill="#6FB450"/>
<rect x="326.10" y="326.80" width="11.90" height="2.60" fill="#7F4290"/>
<rect x="326.10" y="323.60" width="11.90" height="3.20" fill="#4767AA"/>
<rect x="326.10" y="323.40" width="11.90" height="0.20" fill="#F2C65A"/>
<rect x="326.10" y="322.00" width="11.90" height="1.40" fill="#CE4D4B"/>
<line x1="300.20" y1="330.70" x2="300.20" y2="260.20" stroke="#1e1e1e" stroke-width="1.15"/>
<line x1="297.30" y1="330.20" x2="300.20" y2="330.20" stroke="#1e1e1e" stroke-width="0.9"/>
<text x="294.70" y="332.44" font-size="6.3" text-anchor="end" fill="#3a3a3a" stroke="#3a3a3a" stroke-width="0.1" textLength="3.34" lengthAdjust="spacingAndGlyphs">0</text>
<line x1="297.30" y1="316.70" x2="300.20" y2="316.70" stroke="#1e1e1e" stroke-width="0.9"/>
<text x="294.70" y="318.94" font-size="6.3" text-anchor="end" fill="#3a3a3a" stroke="#3a3a3a" stroke-width="0.1" textLength="6.68" lengthAdjust="spacingAndGlyphs">20</text>
<line x1="297.30" y1="303.20" x2="300.20" y2="303.20" stroke="#1e1e1e" stroke-width="0.9"/>
<text x="294.70" y="305.44" font-size="6.3" text-anchor="end" fill="#3a3a3a" stroke="#3a3a3a" stroke-width="0.1" textLength="6.68" lengthAdjust="spacingAndGlyphs">40</text>
<line x1="297.30" y1="289.70" x2="300.20" y2="289.70" stroke="#1e1e1e" stroke-width="0.9"/>
<text x="294.70" y="291.94" font-size="6.3" text-anchor="end" fill="#3a3a3a" stroke="#3a3a3a" stroke-width="0.1" textLength="6.68" lengthAdjust="spacingAndGlyphs">60</text>
<line x1="297.30" y1="276.20" x2="300.20" y2="276.20" stroke="#1e1e1e" stroke-width="0.9"/>
<text x="294.70" y="278.44" font-size="6.3" text-anchor="end" fill="#3a3a3a" stroke="#3a3a3a" stroke-width="0.1" textLength="6.68" lengthAdjust="spacingAndGlyphs">80</text>
<line x1="297.30" y1="262.70" x2="300.20" y2="262.70" stroke="#1e1e1e" stroke-width="0.9"/>
<text x="294.70" y="264.94" font-size="6.3" text-anchor="end" fill="#3a3a3a" stroke="#3a3a3a" stroke-width="0.1" textLength="10.02" lengthAdjust="spacingAndGlyphs">100</text>
<text x="278.60" y="295.20" font-size="7.0" text-anchor="middle" fill="#333" stroke="#333" stroke-width="0.22" textLength="20.60" lengthAdjust="spacingAndGlyphs" transform="rotate(-90 278.60 295.20)">CFU (%)</text>
<line x1="297.30" y1="330.20" x2="344.50" y2="330.20" stroke="#1e1e1e" stroke-width="1.15"/>
<line x1="312.90" y1="330.20" x2="312.90" y2="332.80" stroke="#1e1e1e" stroke-width="0.9"/>
<line x1="332.00" y1="330.20" x2="332.00" y2="332.80" stroke="#1e1e1e" stroke-width="0.9"/>
<text x="312.90" y="340.80" font-size="5.8" text-anchor="middle" fill="#444" stroke="#444" stroke-width="0.22" textLength="8.90" lengthAdjust="spacingAndGlyphs">+/−</text>
<text x="332.00" y="340.80" font-size="5.8" text-anchor="middle" fill="#444" stroke="#444" stroke-width="0.22" textLength="8.60" lengthAdjust="spacingAndGlyphs">−/−</text>
<line x1="312.90" y1="322.30" x2="312.90" y2="325.50" stroke="#1e1e1e" stroke-width="0.8"/>
<line x1="310.40" y1="322.30" x2="315.40" y2="322.30" stroke="#1e1e1e" stroke-width="0.8"/>
<line x1="310.40" y1="325.50" x2="315.40" y2="325.50" stroke="#1e1e1e" stroke-width="0.8"/>
<line x1="332.00" y1="324.00" x2="332.00" y2="326.50" stroke="#1e1e1e" stroke-width="0.8"/>
<line x1="329.50" y1="324.00" x2="334.50" y2="324.00" stroke="#1e1e1e" stroke-width="0.8"/>
<line x1="329.50" y1="326.50" x2="334.50" y2="326.50" stroke="#1e1e1e" stroke-width="0.8"/>
<line x1="350.00" y1="324.70" x2="368.30" y2="324.70" stroke="#C42A44" stroke-width="1.0"/>
<path d="M366.2,322.5 L371.6,324.7 L366.2,326.9 Z" fill="#C42A44"/>
<rect x="406.60" y="325.60" width="12.70" height="4.20" fill="#6FB450"/>
<rect x="406.60" y="299.90" width="12.70" height="25.70" fill="#7F4290"/>
<rect x="406.60" y="289.20" width="12.70" height="10.70" fill="#4767AA"/>
<rect x="406.60" y="287.40" width="12.70" height="1.80" fill="#F2C65A"/>
<rect x="406.60" y="283.60" width="12.70" height="3.80" fill="#CE4D4B"/>
<rect x="425.80" y="324.50" width="12.50" height="5.30" fill="#6FB450"/>
<rect x="425.80" y="308.20" width="12.50" height="16.30" fill="#7F4290"/>
<rect x="425.80" y="299.50" width="12.50" height="8.70" fill="#4767AA"/>
<rect x="425.80" y="298.90" width="12.50" height="0.60" fill="#F2C65A"/>
<rect x="425.80" y="289.00" width="12.50" height="9.90" fill="#CE4D4B"/>
<line x1="399.70" y1="330.30" x2="399.70" y2="260.30" stroke="#1e1e1e" stroke-width="1.15"/>
<line x1="396.80" y1="329.80" x2="399.70" y2="329.80" stroke="#1e1e1e" stroke-width="0.9"/>
<text x="394.20" y="332.04" font-size="6.3" text-anchor="end" fill="#3a3a3a" stroke="#3a3a3a" stroke-width="0.1" textLength="3.34" lengthAdjust="spacingAndGlyphs">0</text>
<line x1="396.80" y1="313.05" x2="399.70" y2="313.05" stroke="#1e1e1e" stroke-width="0.9"/>
<text x="394.20" y="315.29" font-size="6.3" text-anchor="end" fill="#3a3a3a" stroke="#3a3a3a" stroke-width="0.1" textLength="3.34" lengthAdjust="spacingAndGlyphs">5</text>
<line x1="396.80" y1="296.30" x2="399.70" y2="296.30" stroke="#1e1e1e" stroke-width="0.9"/>
<text x="394.20" y="298.54" font-size="6.3" text-anchor="end" fill="#3a3a3a" stroke="#3a3a3a" stroke-width="0.1" textLength="6.68" lengthAdjust="spacingAndGlyphs">10</text>
<line x1="396.80" y1="279.55" x2="399.70" y2="279.55" stroke="#1e1e1e" stroke-width="0.9"/>
<text x="394.20" y="281.79" font-size="6.3" text-anchor="end" fill="#3a3a3a" stroke="#3a3a3a" stroke-width="0.1" textLength="6.68" lengthAdjust="spacingAndGlyphs">15</text>
<line x1="396.80" y1="262.80" x2="399.70" y2="262.80" stroke="#1e1e1e" stroke-width="0.9"/>
<text x="394.20" y="265.04" font-size="6.3" text-anchor="end" fill="#3a3a3a" stroke="#3a3a3a" stroke-width="0.1" textLength="6.68" lengthAdjust="spacingAndGlyphs">20</text>
<text x="381.70" y="295.20" font-size="7.0" text-anchor="middle" fill="#333" stroke="#333" stroke-width="0.22" textLength="20.60" lengthAdjust="spacingAndGlyphs" transform="rotate(-90 381.70 295.20)">CFU (%)</text>
<line x1="396.80" y1="329.80" x2="444.50" y2="329.80" stroke="#1e1e1e" stroke-width="1.15"/>
<line x1="413.00" y1="329.80" x2="413.00" y2="332.40" stroke="#1e1e1e" stroke-width="0.9"/>
<line x1="432.00" y1="329.80" x2="432.00" y2="332.40" stroke="#1e1e1e" stroke-width="0.9"/>
<text x="413.00" y="340.80" font-size="5.8" text-anchor="middle" fill="#444" stroke="#444" stroke-width="0.22" textLength="8.90" lengthAdjust="spacingAndGlyphs">+/−</text>
<text x="432.00" y="340.80" font-size="5.8" text-anchor="middle" fill="#444" stroke="#444" stroke-width="0.22" textLength="8.60" lengthAdjust="spacingAndGlyphs">−/−</text>
<line x1="413.00" y1="285.00" x2="413.00" y2="286.50" stroke="#1e1e1e" stroke-width="0.8"/>
<line x1="410.00" y1="285.00" x2="416.00" y2="285.00" stroke="#1e1e1e" stroke-width="0.8"/>
<line x1="410.00" y1="286.50" x2="416.00" y2="286.50" stroke="#1e1e1e" stroke-width="0.8"/>
<line x1="413.00" y1="288.50" x2="413.00" y2="289.80" stroke="#1e1e1e" stroke-width="0.8"/>
<line x1="410.00" y1="288.50" x2="416.00" y2="288.50" stroke="#1e1e1e" stroke-width="0.8"/>
<line x1="410.00" y1="289.80" x2="416.00" y2="289.80" stroke="#1e1e1e" stroke-width="0.8"/>
<line x1="413.00" y1="291.50" x2="413.00" y2="305.00" stroke="#1e1e1e" stroke-width="0.8"/>
<line x1="410.00" y1="291.50" x2="416.00" y2="291.50" stroke="#1e1e1e" stroke-width="0.8"/>
<line x1="410.00" y1="305.00" x2="416.00" y2="305.00" stroke="#1e1e1e" stroke-width="0.8"/>
<line x1="413.00" y1="324.50" x2="413.00" y2="327.50" stroke="#1e1e1e" stroke-width="0.8"/>
<line x1="410.50" y1="324.50" x2="415.50" y2="324.50" stroke="#1e1e1e" stroke-width="0.8"/>
<line x1="410.50" y1="327.50" x2="415.50" y2="327.50" stroke="#1e1e1e" stroke-width="0.8"/>
<line x1="432.00" y1="290.50" x2="432.00" y2="293.00" stroke="#1e1e1e" stroke-width="0.8"/>
<line x1="429.00" y1="290.50" x2="435.00" y2="290.50" stroke="#1e1e1e" stroke-width="0.8"/>
<line x1="429.00" y1="293.00" x2="435.00" y2="293.00" stroke="#1e1e1e" stroke-width="0.8"/>
<line x1="432.00" y1="301.50" x2="432.00" y2="303.00" stroke="#1e1e1e" stroke-width="0.8"/>
<line x1="429.00" y1="301.50" x2="435.00" y2="301.50" stroke="#1e1e1e" stroke-width="0.8"/>
<line x1="429.00" y1="303.00" x2="435.00" y2="303.00" stroke="#1e1e1e" stroke-width="0.8"/>
<line x1="432.00" y1="306.00" x2="432.00" y2="312.50" stroke="#1e1e1e" stroke-width="0.8"/>
<line x1="429.00" y1="306.00" x2="435.00" y2="306.00" stroke="#1e1e1e" stroke-width="0.8"/>
<line x1="429.00" y1="312.50" x2="435.00" y2="312.50" stroke="#1e1e1e" stroke-width="0.8"/>
<line x1="432.00" y1="323.50" x2="432.00" y2="328.00" stroke="#1e1e1e" stroke-width="0.8"/>
<line x1="429.50" y1="323.50" x2="434.50" y2="323.50" stroke="#1e1e1e" stroke-width="0.8"/>
<line x1="429.50" y1="328.00" x2="434.50" y2="328.00" stroke="#1e1e1e" stroke-width="0.8"/>
<rect x="450.20" y="274.65" width="5.50" height="5.50" fill="#6FB450"/>
<text x="459.20" y="279.85" font-size="6.8" text-anchor="start" fill="#3a3a3a" stroke="#3a3a3a" stroke-width="0.22" textLength="16.80" lengthAdjust="spacingAndGlyphs">CFU-G</text>
<rect x="450.20" y="283.45" width="5.50" height="5.50" fill="#7F4290"/>
<text x="459.20" y="288.65" font-size="6.8" text-anchor="start" fill="#3a3a3a" stroke="#3a3a3a" stroke-width="0.22" textLength="16.90" lengthAdjust="spacingAndGlyphs">CFU-M</text>
<rect x="450.20" y="292.25" width="5.50" height="5.50" fill="#4767AA"/>
<text x="459.20" y="297.45" font-size="6.8" text-anchor="start" fill="#3a3a3a" stroke="#3a3a3a" stroke-width="0.22" textLength="19.90" lengthAdjust="spacingAndGlyphs">CFU-GM</text>
<rect x="450.20" y="301.05" width="5.50" height="5.50" fill="#F2C65A"/>
<text x="459.20" y="306.25" font-size="6.8" text-anchor="start" fill="#3a3a3a" stroke="#3a3a3a" stroke-width="0.22" textLength="29.90" lengthAdjust="spacingAndGlyphs">CFU-GEMM</text>
<rect x="450.20" y="309.85" width="5.50" height="5.50" fill="#CE4D4B"/>
<text x="459.20" y="315.05" font-size="6.8" text-anchor="start" fill="#3a3a3a" stroke="#3a3a3a" stroke-width="0.22" textLength="16.20" lengthAdjust="spacingAndGlyphs">BFU-E</text>
<text x="10.40" y="15.60" font-size="11.2" text-anchor="middle" fill="#111" font-weight="bold" textLength="7.40" lengthAdjust="spacingAndGlyphs">A</text>
<text x="167.10" y="15.60" font-size="11.2" text-anchor="middle" fill="#111" font-weight="bold" textLength="6.20" lengthAdjust="spacingAndGlyphs">B</text>
<text x="320.50" y="15.70" font-size="11.2" text-anchor="middle" fill="#111" font-weight="bold" textLength="7.20" lengthAdjust="spacingAndGlyphs">C</text>
<text x="413.45" y="15.60" font-size="11.2" text-anchor="middle" fill="#111" font-weight="bold" textLength="6.90" lengthAdjust="spacingAndGlyphs">D</text>
<text x="10.00" y="135.70" font-size="11.2" text-anchor="middle" fill="#111" font-weight="bold" textLength="6.20" lengthAdjust="spacingAndGlyphs">E</text>
<text x="101.75" y="135.80" font-size="11.2" text-anchor="middle" fill="#111" font-weight="bold" textLength="5.90" lengthAdjust="spacingAndGlyphs">F</text>
<text x="195.50" y="135.80" font-size="11.2" text-anchor="middle" fill="#111" font-weight="bold" textLength="8.00" lengthAdjust="spacingAndGlyphs">G</text>
<text x="292.05" y="135.70" font-size="11.2" text-anchor="middle" fill="#111" font-weight="bold" textLength="7.30" lengthAdjust="spacingAndGlyphs">H</text>
<text x="7.80" y="254.80" font-size="11.2" text-anchor="middle" fill="#111" font-weight="bold" textLength="4.20" lengthAdjust="spacingAndGlyphs">J</text>
<text x="383.15" y="135.70" font-size="11.2" text-anchor="middle" fill="#111" font-weight="bold">I</text>
<text x="95.60" y="13.45" font-size="9.5" text-anchor="middle" fill="#333" textLength="38.30" lengthAdjust="spacingAndGlyphs">LT/ST-HSC</text>
<text x="248.60" y="13.45" font-size="9.5" text-anchor="middle" fill="#333" textLength="35.70" lengthAdjust="spacingAndGlyphs">MPP2/3/4</text>
<text x="372.15" y="13.35" font-size="9.5" text-anchor="middle" fill="#333" textLength="38.40" lengthAdjust="spacingAndGlyphs">P0 LT-HSC</text>
<text x="465.30" y="13.15" font-size="9.5" text-anchor="middle" fill="#333" textLength="28.90" lengthAdjust="spacingAndGlyphs">P0 MPP</text>
<text x="61.10" y="135.95" font-size="9.5" text-anchor="middle" fill="#333" textLength="29.10" lengthAdjust="spacingAndGlyphs">P0 pGM</text>
<text x="153.40" y="136.05" font-size="9.5" text-anchor="middle" fill="#333" textLength="30.30" lengthAdjust="spacingAndGlyphs">P0 GMP</text>
<text x="250.70" y="136.05" font-size="9.5" text-anchor="middle" fill="#333" textLength="29.30" lengthAdjust="spacingAndGlyphs">P0 MPP</text>
<text x="344.60" y="136.05" font-size="9.5" text-anchor="middle" fill="#333" textLength="33.50" lengthAdjust="spacingAndGlyphs">P14 MPP</text>
<text x="461.40" y="136.25" font-size="9.5" text-anchor="middle" fill="#333" textLength="50.70" lengthAdjust="spacingAndGlyphs">P0 progenitors</text>
<text x="61.65" y="255.35" font-size="9.5" text-anchor="middle" fill="#333" textLength="21.40" lengthAdjust="spacingAndGlyphs">MPP2</text>
<text x="149.10" y="255.35" font-size="9.5" text-anchor="middle" fill="#333" textLength="21.70" lengthAdjust="spacingAndGlyphs">MPP3</text>
<text x="236.05" y="255.35" font-size="9.5" text-anchor="middle" fill="#333" textLength="21.20" lengthAdjust="spacingAndGlyphs">MPP4</text>
<text x="323.40" y="255.35" font-size="9.5" text-anchor="middle" fill="#333" textLength="9.10" lengthAdjust="spacingAndGlyphs">LK</text>
<text x="422.85" y="255.35" font-size="9.5" text-anchor="middle" fill="#333" textLength="8.80" lengthAdjust="spacingAndGlyphs">LK</text>
</g></defs>
<use href="#c" x="-0.25" y="-0.25"/>
<use href="#c" x="0.25" y="-0.25" opacity="0.5"/>
<use href="#c" x="-0.25" y="0.25" opacity="0.3333"/>
<use href="#c" x="0.25" y="0.25" opacity="0.25"/>
<rect x="0" y="0" width="520" height="1" fill="#6a6a6a"/>
<rect x="0" y="0" width="1" height="349" fill="#626262"/>
<rect x="518" y="0" width="1" height="349" fill="#c8c8c8"/>
<rect x="519" y="0" width="1" height="349" fill="#2e2e2e"/>
<rect x="0" y="347" width="520" height="1" fill="#c8c8c8"/>
<rect x="0" y="348" width="520" height="1" fill="#2e2e2e"/>
</svg></div></body></html>
